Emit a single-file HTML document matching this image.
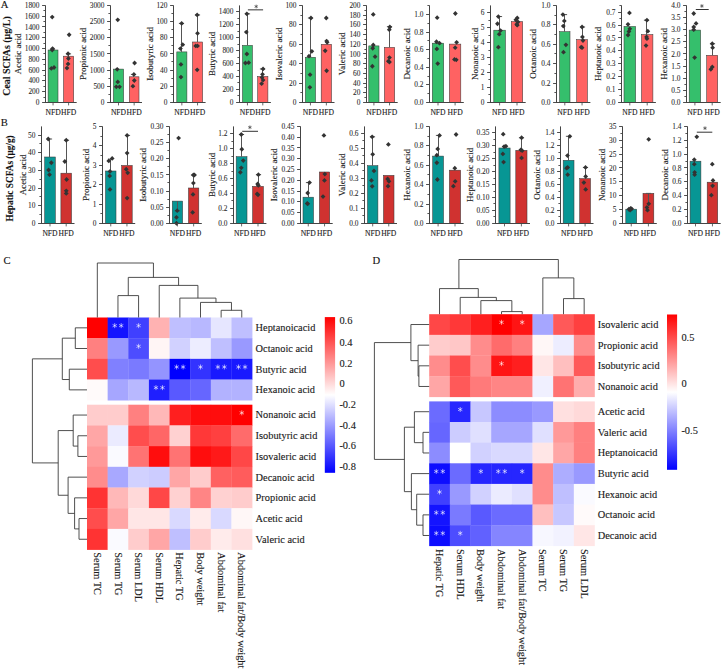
<!DOCTYPE html>
<html><head><meta charset="utf-8"><title>Figure</title>
<style>
html,body{margin:0;padding:0;background:#fff;}
body{width:722px;height:670px;overflow:hidden;}
svg{display:block;}
text{font-family:"Liberation Serif",serif;fill:#222;stroke:#222;stroke-width:0.12px;}
.tk{font-size:7.40px;text-anchor:end;fill:#2a2a2a;stroke:#333;stroke-width:0.08px;}
.xl{font-size:7.60px;fill:#222;}
.yl{font-size:9.00px;fill:#222;}
.st{font-size:9px;fill:#333;}
.hl{font-size:10.35px;fill:#1a1a1a;}
.hs{font-size:10.5px;fill:#e8e8ff;}
.cb{font-size:10.4px;fill:#1a1a1a;}
.pl{font-size:10.6px;fill:#111;}
.gt{font-size:9.9px;font-weight:bold;fill:#111;}
.gt2{font-size:9.3px;font-weight:bold;fill:#111;}
</style></head>
<body>
<svg width="722" height="670" viewBox="0 0 722 670">
<defs>
<linearGradient id="cbC" x1="0" y1="0" x2="0" y2="1">
<stop offset="0" stop-color="#ff0000"/><stop offset="0.5" stop-color="#ffffff"/><stop offset="1" stop-color="#0000ff"/>
</linearGradient>
<linearGradient id="cbD" x1="0" y1="0" x2="0" y2="1">
<stop offset="0" stop-color="#ff0000"/><stop offset="0.5" stop-color="#ffffff"/><stop offset="1" stop-color="#0000ff"/>
</linearGradient>
</defs>
<rect width="722" height="670" fill="#fff"/>
<rect x="87.00" y="317.50" width="20.94" height="20.97" fill="#ff0000"/>
<rect x="107.64" y="317.50" width="20.94" height="20.97" fill="#1414ff"/>
<rect x="128.28" y="317.50" width="20.94" height="20.97" fill="#4040ff"/>
<rect x="148.91" y="317.50" width="20.94" height="20.97" fill="#ffb2b2"/>
<rect x="169.55" y="317.50" width="20.94" height="20.97" fill="#bfbfff"/>
<rect x="190.19" y="317.50" width="20.94" height="20.97" fill="#b8b8ff"/>
<rect x="210.82" y="317.50" width="20.94" height="20.97" fill="#e6e6ff"/>
<rect x="231.46" y="317.50" width="20.94" height="20.97" fill="#bfbfff"/>
<rect x="87.00" y="338.18" width="20.94" height="20.97" fill="#ff8080"/>
<rect x="107.64" y="338.18" width="20.94" height="20.97" fill="#9999ff"/>
<rect x="128.28" y="338.18" width="20.94" height="20.97" fill="#4d4dff"/>
<rect x="148.91" y="338.18" width="20.94" height="20.97" fill="#fff5f5"/>
<rect x="169.55" y="338.18" width="20.94" height="20.97" fill="#d1d1ff"/>
<rect x="190.19" y="338.18" width="20.94" height="20.97" fill="#ededff"/>
<rect x="210.82" y="338.18" width="20.94" height="20.97" fill="#bfbfff"/>
<rect x="231.46" y="338.18" width="20.94" height="20.97" fill="#9999ff"/>
<rect x="87.00" y="358.85" width="20.94" height="20.97" fill="#ff4d4d"/>
<rect x="107.64" y="358.85" width="20.94" height="20.97" fill="#8080ff"/>
<rect x="128.28" y="358.85" width="20.94" height="20.97" fill="#7a7aff"/>
<rect x="148.91" y="358.85" width="20.94" height="20.97" fill="#9494ff"/>
<rect x="169.55" y="358.85" width="20.94" height="20.97" fill="#0000ff"/>
<rect x="190.19" y="358.85" width="20.94" height="20.97" fill="#3333ff"/>
<rect x="210.82" y="358.85" width="20.94" height="20.97" fill="#1919ff"/>
<rect x="231.46" y="358.85" width="20.94" height="20.97" fill="#1919ff"/>
<rect x="87.00" y="379.52" width="20.94" height="20.97" fill="#fffafa"/>
<rect x="107.64" y="379.52" width="20.94" height="20.97" fill="#a6a6ff"/>
<rect x="128.28" y="379.52" width="20.94" height="20.97" fill="#b8b8ff"/>
<rect x="148.91" y="379.52" width="20.94" height="20.97" fill="#1f1fff"/>
<rect x="169.55" y="379.52" width="20.94" height="20.97" fill="#5959ff"/>
<rect x="190.19" y="379.52" width="20.94" height="20.97" fill="#6666ff"/>
<rect x="210.82" y="379.52" width="20.94" height="20.97" fill="#b2b2ff"/>
<rect x="231.46" y="379.52" width="20.94" height="20.97" fill="#b2b2ff"/>
<rect x="87.00" y="404.70" width="20.94" height="21.00" fill="#ffcccc"/>
<rect x="107.64" y="404.70" width="20.94" height="21.00" fill="#ffcccc"/>
<rect x="128.28" y="404.70" width="20.94" height="21.00" fill="#ff8080"/>
<rect x="148.91" y="404.70" width="20.94" height="21.00" fill="#ffb8b8"/>
<rect x="169.55" y="404.70" width="20.94" height="21.00" fill="#ff1f1f"/>
<rect x="190.19" y="404.70" width="20.94" height="21.00" fill="#ff0d0d"/>
<rect x="210.82" y="404.70" width="20.94" height="21.00" fill="#ff0d0d"/>
<rect x="231.46" y="404.70" width="20.94" height="21.00" fill="#ff0000"/>
<rect x="87.00" y="425.40" width="20.94" height="21.00" fill="#ffa6a6"/>
<rect x="107.64" y="425.40" width="20.94" height="21.00" fill="#ebebff"/>
<rect x="128.28" y="425.40" width="20.94" height="21.00" fill="#ff4d4d"/>
<rect x="148.91" y="425.40" width="20.94" height="21.00" fill="#ff6666"/>
<rect x="169.55" y="425.40" width="20.94" height="21.00" fill="#ffd1d1"/>
<rect x="190.19" y="425.40" width="20.94" height="21.00" fill="#ff3838"/>
<rect x="210.82" y="425.40" width="20.94" height="21.00" fill="#ff4040"/>
<rect x="231.46" y="425.40" width="20.94" height="21.00" fill="#ff6b6b"/>
<rect x="87.00" y="446.10" width="20.94" height="21.00" fill="#ff9999"/>
<rect x="107.64" y="446.10" width="20.94" height="21.00" fill="#fafaff"/>
<rect x="128.28" y="446.10" width="20.94" height="21.00" fill="#ff7373"/>
<rect x="148.91" y="446.10" width="20.94" height="21.00" fill="#ff0d0d"/>
<rect x="169.55" y="446.10" width="20.94" height="21.00" fill="#ff7373"/>
<rect x="190.19" y="446.10" width="20.94" height="21.00" fill="#ff0d0d"/>
<rect x="210.82" y="446.10" width="20.94" height="21.00" fill="#ff1919"/>
<rect x="231.46" y="446.10" width="20.94" height="21.00" fill="#ff4747"/>
<rect x="87.00" y="466.80" width="20.94" height="21.00" fill="#ff8c8c"/>
<rect x="107.64" y="466.80" width="20.94" height="21.00" fill="#a8a8ff"/>
<rect x="128.28" y="466.80" width="20.94" height="21.00" fill="#d1d1ff"/>
<rect x="148.91" y="466.80" width="20.94" height="21.00" fill="#ccccff"/>
<rect x="169.55" y="466.80" width="20.94" height="21.00" fill="#ffa6a6"/>
<rect x="190.19" y="466.80" width="20.94" height="21.00" fill="#ffcccc"/>
<rect x="210.82" y="466.80" width="20.94" height="21.00" fill="#ff6161"/>
<rect x="231.46" y="466.80" width="20.94" height="21.00" fill="#ff5c5c"/>
<rect x="87.00" y="487.50" width="20.94" height="21.00" fill="#ff3333"/>
<rect x="107.64" y="487.50" width="20.94" height="21.00" fill="#ffb8b8"/>
<rect x="128.28" y="487.50" width="20.94" height="21.00" fill="#ffd9d9"/>
<rect x="148.91" y="487.50" width="20.94" height="21.00" fill="#ff4747"/>
<rect x="169.55" y="487.50" width="20.94" height="21.00" fill="#ffd1d1"/>
<rect x="190.19" y="487.50" width="20.94" height="21.00" fill="#ff8585"/>
<rect x="210.82" y="487.50" width="20.94" height="21.00" fill="#ffd1d1"/>
<rect x="231.46" y="487.50" width="20.94" height="21.00" fill="#ffcccc"/>
<rect x="87.00" y="508.20" width="20.94" height="21.00" fill="#ff4d4d"/>
<rect x="107.64" y="508.20" width="20.94" height="21.00" fill="#ffa6a6"/>
<rect x="128.28" y="508.20" width="20.94" height="21.00" fill="#ffe6e6"/>
<rect x="148.91" y="508.20" width="20.94" height="21.00" fill="#ffe6e6"/>
<rect x="169.55" y="508.20" width="20.94" height="21.00" fill="#d9d9ff"/>
<rect x="190.19" y="508.20" width="20.94" height="21.00" fill="#ffebeb"/>
<rect x="210.82" y="508.20" width="20.94" height="21.00" fill="#d9d9ff"/>
<rect x="231.46" y="508.20" width="20.94" height="21.00" fill="#fff7f7"/>
<rect x="87.00" y="528.90" width="20.94" height="21.00" fill="#ff3333"/>
<rect x="107.64" y="528.90" width="20.94" height="21.00" fill="#fafaff"/>
<rect x="128.28" y="528.90" width="20.94" height="21.00" fill="#ffcccc"/>
<rect x="148.91" y="528.90" width="20.94" height="21.00" fill="#ffa6a6"/>
<rect x="169.55" y="528.90" width="20.94" height="21.00" fill="#bfbfff"/>
<rect x="190.19" y="528.90" width="20.94" height="21.00" fill="#ffcccc"/>
<rect x="210.82" y="528.90" width="20.94" height="21.00" fill="#ffebeb"/>
<rect x="231.46" y="528.90" width="20.94" height="21.00" fill="#ffe0e0"/>
<path d="M114.71 323.54L114.71 327.74M112.89 324.59L116.52 326.69M116.52 324.59L112.89 326.69" stroke="rgba(255,255,255,0.72)" stroke-width="0.80" stroke-linecap="round" fill="none"/>
<path d="M121.21 323.54L121.21 327.74M119.39 324.59L123.02 326.69M123.02 324.59L119.39 326.69" stroke="rgba(255,255,255,0.72)" stroke-width="0.80" stroke-linecap="round" fill="none"/>
<path d="M138.59 323.54L138.59 327.74M136.78 324.59L140.41 326.69M140.41 324.59L136.78 326.69" stroke="rgba(255,255,255,0.72)" stroke-width="0.80" stroke-linecap="round" fill="none"/>
<path d="M138.59 344.21L138.59 348.41M136.78 345.26L140.41 347.36M140.41 345.26L136.78 347.36" stroke="rgba(255,255,255,0.72)" stroke-width="0.80" stroke-linecap="round" fill="none"/>
<path d="M176.62 364.89L176.62 369.09M174.80 365.94L178.44 368.04M178.44 365.94L174.80 368.04" stroke="rgba(255,255,255,0.72)" stroke-width="0.80" stroke-linecap="round" fill="none"/>
<path d="M183.12 364.89L183.12 369.09M181.30 365.94L184.94 368.04M184.94 365.94L181.30 368.04" stroke="rgba(255,255,255,0.72)" stroke-width="0.80" stroke-linecap="round" fill="none"/>
<path d="M200.51 364.89L200.51 369.09M198.69 365.94L202.32 368.04M202.32 365.94L198.69 368.04" stroke="rgba(255,255,255,0.72)" stroke-width="0.80" stroke-linecap="round" fill="none"/>
<path d="M217.89 364.89L217.89 369.09M216.08 365.94L219.71 368.04M219.71 365.94L216.08 368.04" stroke="rgba(255,255,255,0.72)" stroke-width="0.80" stroke-linecap="round" fill="none"/>
<path d="M224.39 364.89L224.39 369.09M222.58 365.94L226.21 368.04M226.21 365.94L222.58 368.04" stroke="rgba(255,255,255,0.72)" stroke-width="0.80" stroke-linecap="round" fill="none"/>
<path d="M238.53 364.89L238.53 369.09M236.71 365.94L240.35 368.04M240.35 365.94L236.71 368.04" stroke="rgba(255,255,255,0.72)" stroke-width="0.80" stroke-linecap="round" fill="none"/>
<path d="M245.03 364.89L245.03 369.09M243.21 365.94L246.85 368.04M246.85 365.94L243.21 368.04" stroke="rgba(255,255,255,0.72)" stroke-width="0.80" stroke-linecap="round" fill="none"/>
<path d="M155.98 385.56L155.98 389.76M154.16 386.61L157.80 388.71M157.80 386.61L154.16 388.71" stroke="rgba(255,255,255,0.72)" stroke-width="0.80" stroke-linecap="round" fill="none"/>
<path d="M162.48 385.56L162.48 389.76M160.66 386.61L164.30 388.71M164.30 386.61L160.66 388.71" stroke="rgba(255,255,255,0.72)" stroke-width="0.80" stroke-linecap="round" fill="none"/>
<path d="M241.78 410.75L241.78 414.95M239.96 411.80L243.60 413.90M243.60 411.80L239.96 413.90" stroke="rgba(255,255,255,0.72)" stroke-width="0.80" stroke-linecap="round" fill="none"/>
<text x="255.60" y="331.24" class="hl">Heptanoicacid</text>
<text x="255.60" y="351.91" class="hl">Octanoic acid</text>
<text x="255.60" y="372.59" class="hl">Butyric acid</text>
<text x="255.60" y="393.26" class="hl">Hexanoic acid</text>
<text x="255.60" y="418.45" class="hl">Nonanoic acid</text>
<text x="255.60" y="439.15" class="hl">Isobutyric acid</text>
<text x="255.60" y="459.85" class="hl">Isovaleric acid</text>
<text x="255.60" y="480.55" class="hl">Decanoic acid</text>
<text x="255.60" y="501.25" class="hl">Propionic acid</text>
<text x="255.60" y="521.95" class="hl">Acetic acid</text>
<text x="255.60" y="542.65" class="hl">Valeric acid</text>
<text transform="translate(93.92 552.30) rotate(90)" class="hl">Serum TC</text>
<text transform="translate(114.56 552.30) rotate(90)" class="hl">Serum TG</text>
<text transform="translate(135.19 552.30) rotate(90)" class="hl">Serum LDL</text>
<text transform="translate(155.83 552.30) rotate(90)" class="hl">Serum HDL</text>
<text transform="translate(176.47 552.30) rotate(90)" class="hl">Hepatic TG</text>
<text transform="translate(197.11 552.30) rotate(90)" class="hl">Body weight</text>
<text transform="translate(217.74 552.30) rotate(90)" class="hl">Abdominal fat</text>
<text transform="translate(238.38 552.30) rotate(90)" class="hl">Abdominal fat/Body weight</text>
<path d="M221.14 317.50 L221.14 310.30 L241.78 310.30 L241.78 317.50" fill="none" stroke="#3c3c3c" stroke-width="0.9"/>
<path d="M200.51 317.50 L200.51 302.40 L231.46 302.40 L231.46 310.30" fill="none" stroke="#3c3c3c" stroke-width="0.9"/>
<path d="M179.87 317.50 L179.87 298.10 L215.98 298.10 L215.98 302.40" fill="none" stroke="#3c3c3c" stroke-width="0.9"/>
<path d="M159.23 317.50 L159.23 285.40 L197.93 285.40 L197.93 298.10" fill="none" stroke="#3c3c3c" stroke-width="0.9"/>
<path d="M117.96 317.50 L117.96 295.60 L138.59 295.60 L138.59 317.50" fill="none" stroke="#3c3c3c" stroke-width="0.9"/>
<path d="M128.28 295.60 L128.28 277.40 L178.58 277.40 L178.58 285.40" fill="none" stroke="#3c3c3c" stroke-width="0.9"/>
<path d="M97.32 317.50 L97.32 263.00 L153.43 263.00 L153.43 277.40" fill="none" stroke="#3c3c3c" stroke-width="0.9"/>
<path d="M87.00 327.84 L75.30 327.84 L75.30 348.51 L87.00 348.51" fill="none" stroke="#3c3c3c" stroke-width="0.9"/>
<path d="M87.00 369.19 L69.30 369.19 L69.30 389.86 L87.00 389.86" fill="none" stroke="#3c3c3c" stroke-width="0.9"/>
<path d="M75.30 338.17 L62.30 338.17 L62.30 379.52 L69.30 379.52" fill="none" stroke="#3c3c3c" stroke-width="0.9"/>
<path d="M87.00 435.75 L77.90 435.75 L77.90 456.45 L87.00 456.45" fill="none" stroke="#3c3c3c" stroke-width="0.9"/>
<path d="M87.00 415.05 L73.20 415.05 L73.20 446.10 L77.90 446.10" fill="none" stroke="#3c3c3c" stroke-width="0.9"/>
<path d="M87.00 518.55 L79.00 518.55 L79.00 539.25 L87.00 539.25" fill="none" stroke="#3c3c3c" stroke-width="0.9"/>
<path d="M87.00 497.85 L74.60 497.85 L74.60 528.90 L79.00 528.90" fill="none" stroke="#3c3c3c" stroke-width="0.9"/>
<path d="M87.00 477.15 L68.10 477.15 L68.10 513.38 L74.60 513.38" fill="none" stroke="#3c3c3c" stroke-width="0.9"/>
<path d="M73.20 430.58 L58.20 430.58 L58.20 495.26 L68.10 495.26" fill="none" stroke="#3c3c3c" stroke-width="0.9"/>
<path d="M62.30 358.85 L32.40 358.85 L32.40 462.92 L58.20 462.92" fill="none" stroke="#3c3c3c" stroke-width="0.9"/>
<rect x="324.8" y="317.1" width="10.3" height="155.7" fill="url(#cbC)"/>
<text x="339.4" y="324.30" class="cb">0.6</text>
<text x="339.4" y="346.20" class="cb">0.4</text>
<text x="339.4" y="367.10" class="cb">0.2</text>
<text x="339.4" y="387.00" class="cb">0</text>
<text x="339.4" y="408.00" class="cb">-0.2</text>
<text x="339.4" y="428.80" class="cb">-0.4</text>
<text x="339.4" y="449.10" class="cb">-0.6</text>
<text x="339.4" y="469.80" class="cb">-0.8</text>
<rect x="429.20" y="314.20" width="20.96" height="20.95" fill="#ff4747"/>
<rect x="449.86" y="314.20" width="20.96" height="20.95" fill="#ff3838"/>
<rect x="470.52" y="314.20" width="20.96" height="20.95" fill="#ff1f1f"/>
<rect x="491.19" y="314.20" width="20.96" height="20.95" fill="#ff0000"/>
<rect x="511.85" y="314.20" width="20.96" height="20.95" fill="#ff1414"/>
<rect x="532.51" y="314.20" width="20.96" height="20.95" fill="#a6a6ff"/>
<rect x="553.17" y="314.20" width="20.96" height="20.95" fill="#ff5959"/>
<rect x="573.84" y="314.20" width="20.96" height="20.95" fill="#ff4040"/>
<rect x="429.20" y="334.85" width="20.96" height="20.95" fill="#ffcccc"/>
<rect x="449.86" y="334.85" width="20.96" height="20.95" fill="#ffc7c7"/>
<rect x="470.52" y="334.85" width="20.96" height="20.95" fill="#ff8c8c"/>
<rect x="491.19" y="334.85" width="20.96" height="20.95" fill="#ff6b6b"/>
<rect x="511.85" y="334.85" width="20.96" height="20.95" fill="#ff8080"/>
<rect x="532.51" y="334.85" width="20.96" height="20.95" fill="#fff7f7"/>
<rect x="553.17" y="334.85" width="20.96" height="20.95" fill="#ededff"/>
<rect x="573.84" y="334.85" width="20.96" height="20.95" fill="#ff8c8c"/>
<rect x="429.20" y="355.50" width="20.96" height="20.95" fill="#ff8c8c"/>
<rect x="449.86" y="355.50" width="20.96" height="20.95" fill="#ff4d4d"/>
<rect x="470.52" y="355.50" width="20.96" height="20.95" fill="#ff8c8c"/>
<rect x="491.19" y="355.50" width="20.96" height="20.95" fill="#ff1414"/>
<rect x="511.85" y="355.50" width="20.96" height="20.95" fill="#ff1f1f"/>
<rect x="532.51" y="355.50" width="20.96" height="20.95" fill="#ffe6e6"/>
<rect x="553.17" y="355.50" width="20.96" height="20.95" fill="#ffbfbf"/>
<rect x="573.84" y="355.50" width="20.96" height="20.95" fill="#ff5959"/>
<rect x="429.20" y="376.15" width="20.96" height="20.95" fill="#ffa6a6"/>
<rect x="449.86" y="376.15" width="20.96" height="20.95" fill="#ff5959"/>
<rect x="470.52" y="376.15" width="20.96" height="20.95" fill="#ff7a7a"/>
<rect x="491.19" y="376.15" width="20.96" height="20.95" fill="#ff8585"/>
<rect x="511.85" y="376.15" width="20.96" height="20.95" fill="#ff8585"/>
<rect x="532.51" y="376.15" width="20.96" height="20.95" fill="#f0f0ff"/>
<rect x="553.17" y="376.15" width="20.96" height="20.95" fill="#ff7373"/>
<rect x="573.84" y="376.15" width="20.96" height="20.95" fill="#ffadad"/>
<rect x="429.20" y="401.40" width="20.96" height="20.93" fill="#6b6bff"/>
<rect x="449.86" y="401.40" width="20.96" height="20.93" fill="#2626ff"/>
<rect x="470.52" y="401.40" width="20.96" height="20.93" fill="#c7c7ff"/>
<rect x="491.19" y="401.40" width="20.96" height="20.93" fill="#8c8cff"/>
<rect x="511.85" y="401.40" width="20.96" height="20.93" fill="#8c8cff"/>
<rect x="532.51" y="401.40" width="20.96" height="20.93" fill="#9999ff"/>
<rect x="553.17" y="401.40" width="20.96" height="20.93" fill="#ffe0e0"/>
<rect x="573.84" y="401.40" width="20.96" height="20.93" fill="#ffd9d9"/>
<rect x="429.20" y="422.03" width="20.96" height="20.93" fill="#6666ff"/>
<rect x="449.86" y="422.03" width="20.96" height="20.93" fill="#ccccff"/>
<rect x="470.52" y="422.03" width="20.96" height="20.93" fill="#e0e0ff"/>
<rect x="491.19" y="422.03" width="20.96" height="20.93" fill="#a6a6ff"/>
<rect x="511.85" y="422.03" width="20.96" height="20.93" fill="#a6a6ff"/>
<rect x="532.51" y="422.03" width="20.96" height="20.93" fill="#e0e0ff"/>
<rect x="553.17" y="422.03" width="20.96" height="20.93" fill="#ff9999"/>
<rect x="573.84" y="422.03" width="20.96" height="20.93" fill="#ff8080"/>
<rect x="429.20" y="442.66" width="20.96" height="20.93" fill="#8c8cff"/>
<rect x="449.86" y="442.66" width="20.96" height="20.93" fill="#ffffff"/>
<rect x="470.52" y="442.66" width="20.96" height="20.93" fill="#d1d1ff"/>
<rect x="491.19" y="442.66" width="20.96" height="20.93" fill="#d9d9ff"/>
<rect x="511.85" y="442.66" width="20.96" height="20.93" fill="#d9d9ff"/>
<rect x="532.51" y="442.66" width="20.96" height="20.93" fill="#ffe6e6"/>
<rect x="553.17" y="442.66" width="20.96" height="20.93" fill="#ffa6a6"/>
<rect x="573.84" y="442.66" width="20.96" height="20.93" fill="#ff8080"/>
<rect x="429.20" y="463.29" width="20.96" height="20.93" fill="#0d0dff"/>
<rect x="449.86" y="463.29" width="20.96" height="20.93" fill="#6b6bff"/>
<rect x="470.52" y="463.29" width="20.96" height="20.93" fill="#2626ff"/>
<rect x="491.19" y="463.29" width="20.96" height="20.93" fill="#2626ff"/>
<rect x="511.85" y="463.29" width="20.96" height="20.93" fill="#2626ff"/>
<rect x="532.51" y="463.29" width="20.96" height="20.93" fill="#ff8c8c"/>
<rect x="553.17" y="463.29" width="20.96" height="20.93" fill="#adadff"/>
<rect x="573.84" y="463.29" width="20.96" height="20.93" fill="#9999ff"/>
<rect x="429.20" y="483.91" width="20.96" height="20.93" fill="#4040ff"/>
<rect x="449.86" y="483.91" width="20.96" height="20.93" fill="#9999ff"/>
<rect x="470.52" y="483.91" width="20.96" height="20.93" fill="#d1d1ff"/>
<rect x="491.19" y="483.91" width="20.96" height="20.93" fill="#ebebff"/>
<rect x="511.85" y="483.91" width="20.96" height="20.93" fill="#e0e0ff"/>
<rect x="532.51" y="483.91" width="20.96" height="20.93" fill="#ff8c8c"/>
<rect x="553.17" y="483.91" width="20.96" height="20.93" fill="#bfbfff"/>
<rect x="573.84" y="483.91" width="20.96" height="20.93" fill="#fafaff"/>
<rect x="429.20" y="504.54" width="20.96" height="20.93" fill="#1414ff"/>
<rect x="449.86" y="504.54" width="20.96" height="20.93" fill="#7a7aff"/>
<rect x="470.52" y="504.54" width="20.96" height="20.93" fill="#5959ff"/>
<rect x="491.19" y="504.54" width="20.96" height="20.93" fill="#6b6bff"/>
<rect x="511.85" y="504.54" width="20.96" height="20.93" fill="#6b6bff"/>
<rect x="532.51" y="504.54" width="20.96" height="20.93" fill="#ffbfbf"/>
<rect x="553.17" y="504.54" width="20.96" height="20.93" fill="#c7c7ff"/>
<rect x="573.84" y="504.54" width="20.96" height="20.93" fill="#fffafa"/>
<rect x="429.20" y="525.17" width="20.96" height="20.93" fill="#0d0dff"/>
<rect x="449.86" y="525.17" width="20.96" height="20.93" fill="#4d4dff"/>
<rect x="470.52" y="525.17" width="20.96" height="20.93" fill="#6161ff"/>
<rect x="491.19" y="525.17" width="20.96" height="20.93" fill="#8585ff"/>
<rect x="511.85" y="525.17" width="20.96" height="20.93" fill="#8585ff"/>
<rect x="532.51" y="525.17" width="20.96" height="20.93" fill="#f7f7ff"/>
<rect x="553.17" y="525.17" width="20.96" height="20.93" fill="#f2f2ff"/>
<rect x="573.84" y="525.17" width="20.96" height="20.93" fill="#ffe6e6"/>
<path d="M501.52 320.22L501.52 324.43M499.70 321.27L503.34 323.38M503.34 321.27L499.70 323.38" stroke="rgba(255,255,255,0.72)" stroke-width="0.80" stroke-linecap="round" fill="none"/>
<path d="M522.18 320.22L522.18 324.43M520.36 321.27L524.00 323.38M524.00 321.27L520.36 323.38" stroke="rgba(255,255,255,0.72)" stroke-width="0.80" stroke-linecap="round" fill="none"/>
<path d="M501.52 361.52L501.52 365.73M499.70 362.57L503.34 364.68M503.34 362.57L499.70 364.68" stroke="rgba(255,255,255,0.72)" stroke-width="0.80" stroke-linecap="round" fill="none"/>
<path d="M460.19 407.41L460.19 411.61M458.38 408.46L462.01 410.56M462.01 408.46L458.38 410.56" stroke="rgba(255,255,255,0.72)" stroke-width="0.80" stroke-linecap="round" fill="none"/>
<path d="M436.28 469.30L436.28 473.50M434.46 470.35L438.10 472.45M438.10 470.35L434.46 472.45" stroke="rgba(255,255,255,0.72)" stroke-width="0.80" stroke-linecap="round" fill="none"/>
<path d="M442.78 469.30L442.78 473.50M440.96 470.35L444.60 472.45M444.60 470.35L440.96 472.45" stroke="rgba(255,255,255,0.72)" stroke-width="0.80" stroke-linecap="round" fill="none"/>
<path d="M480.86 469.30L480.86 473.50M479.04 470.35L482.67 472.45M482.67 470.35L479.04 472.45" stroke="rgba(255,255,255,0.72)" stroke-width="0.80" stroke-linecap="round" fill="none"/>
<path d="M498.27 469.30L498.27 473.50M496.45 470.35L500.09 472.45M500.09 470.35L496.45 472.45" stroke="rgba(255,255,255,0.72)" stroke-width="0.80" stroke-linecap="round" fill="none"/>
<path d="M504.77 469.30L504.77 473.50M502.95 470.35L506.59 472.45M506.59 470.35L502.95 472.45" stroke="rgba(255,255,255,0.72)" stroke-width="0.80" stroke-linecap="round" fill="none"/>
<path d="M522.18 469.30L522.18 473.50M520.36 470.35L524.00 472.45M524.00 470.35L520.36 472.45" stroke="rgba(255,255,255,0.72)" stroke-width="0.80" stroke-linecap="round" fill="none"/>
<path d="M439.53 489.93L439.53 494.13M437.71 490.98L441.35 493.08M441.35 490.98L437.71 493.08" stroke="rgba(255,255,255,0.72)" stroke-width="0.80" stroke-linecap="round" fill="none"/>
<path d="M436.28 510.56L436.28 514.76M434.46 511.61L438.10 513.71M438.10 511.61L434.46 513.71" stroke="rgba(255,255,255,0.72)" stroke-width="0.80" stroke-linecap="round" fill="none"/>
<path d="M442.78 510.56L442.78 514.76M440.96 511.61L444.60 513.71M444.60 511.61L440.96 513.71" stroke="rgba(255,255,255,0.72)" stroke-width="0.80" stroke-linecap="round" fill="none"/>
<path d="M436.28 531.19L436.28 535.39M434.46 532.24L438.10 534.34M438.10 532.24L434.46 534.34" stroke="rgba(255,255,255,0.72)" stroke-width="0.80" stroke-linecap="round" fill="none"/>
<path d="M442.78 531.19L442.78 535.39M440.96 532.24L444.60 534.34M444.60 532.24L440.96 534.34" stroke="rgba(255,255,255,0.72)" stroke-width="0.80" stroke-linecap="round" fill="none"/>
<path d="M460.19 531.19L460.19 535.39M458.38 532.24L462.01 534.34M462.01 532.24L458.38 534.34" stroke="rgba(255,255,255,0.72)" stroke-width="0.80" stroke-linecap="round" fill="none"/>
<text x="597.80" y="327.92" class="hl">Isovaleric acid</text>
<text x="597.80" y="348.57" class="hl">Propionic acid</text>
<text x="597.80" y="369.22" class="hl">Isobutyric acid</text>
<text x="597.80" y="389.87" class="hl">Nonanoic acid</text>
<text x="597.80" y="415.11" class="hl">Acetic acid</text>
<text x="597.80" y="435.74" class="hl">Valeric acid</text>
<text x="597.80" y="456.37" class="hl">Heptanoicacid</text>
<text x="597.80" y="477.00" class="hl">Butyric acid</text>
<text x="597.80" y="497.63" class="hl">Hexanoic acid</text>
<text x="597.80" y="518.26" class="hl">Octanoic acid</text>
<text x="597.80" y="538.89" class="hl">Decanoic acid</text>
<text transform="translate(436.13 549.00) rotate(90)" class="hl">Hepatic TG</text>
<text transform="translate(456.79 549.00) rotate(90)" class="hl">Serum HDL</text>
<text transform="translate(477.46 549.00) rotate(90)" class="hl">Body weight</text>
<text transform="translate(498.12 549.00) rotate(90)" class="hl">Abdominal fat</text>
<text transform="translate(518.78 549.00) rotate(90)" class="hl">Abdominal fat/Body weight</text>
<text transform="translate(539.44 549.00) rotate(90)" class="hl">Serum TC</text>
<text transform="translate(560.11 549.00) rotate(90)" class="hl">Serum TG</text>
<text transform="translate(580.77 549.00) rotate(90)" class="hl">Serum LDL</text>
<path d="M501.52 314.20 L501.52 311.60 L522.18 311.60 L522.18 314.20" fill="none" stroke="#3c3c3c" stroke-width="0.9"/>
<path d="M480.86 314.20 L480.86 300.60 L511.85 300.60 L511.85 311.60" fill="none" stroke="#3c3c3c" stroke-width="0.9"/>
<path d="M460.19 314.20 L460.19 297.40 L496.35 297.40 L496.35 300.60" fill="none" stroke="#3c3c3c" stroke-width="0.9"/>
<path d="M439.53 314.20 L439.53 288.60 L478.27 288.60 L478.27 297.40" fill="none" stroke="#3c3c3c" stroke-width="0.9"/>
<path d="M563.51 314.20 L563.51 298.60 L584.17 298.60 L584.17 314.20" fill="none" stroke="#3c3c3c" stroke-width="0.9"/>
<path d="M542.84 314.20 L542.84 277.90 L573.84 277.90 L573.84 298.60" fill="none" stroke="#3c3c3c" stroke-width="0.9"/>
<path d="M458.90 288.60 L458.90 259.50 L558.34 259.50 L558.34 277.90" fill="none" stroke="#3c3c3c" stroke-width="0.9"/>
<path d="M429.20 365.82 L418.90 365.82 L418.90 386.47 L429.20 386.47" fill="none" stroke="#3c3c3c" stroke-width="0.9"/>
<path d="M429.20 345.18 L418.10 345.18 L418.10 376.15 L418.90 376.15" fill="none" stroke="#3c3c3c" stroke-width="0.9"/>
<path d="M429.20 324.52 L410.90 324.52 L410.90 360.66 L418.10 360.66" fill="none" stroke="#3c3c3c" stroke-width="0.9"/>
<path d="M429.20 432.34 L423.00 432.34 L423.00 452.97 L429.20 452.97" fill="none" stroke="#3c3c3c" stroke-width="0.9"/>
<path d="M429.20 411.71 L414.40 411.71 L414.40 442.66 L423.00 442.66" fill="none" stroke="#3c3c3c" stroke-width="0.9"/>
<path d="M429.20 514.86 L423.00 514.86 L423.00 535.49 L429.20 535.49" fill="none" stroke="#3c3c3c" stroke-width="0.9"/>
<path d="M429.20 494.23 L416.70 494.23 L416.70 525.17 L423.00 525.17" fill="none" stroke="#3c3c3c" stroke-width="0.9"/>
<path d="M429.20 473.60 L411.40 473.60 L411.40 509.70 L416.70 509.70" fill="none" stroke="#3c3c3c" stroke-width="0.9"/>
<path d="M414.40 427.19 L404.40 427.19 L404.40 491.65 L411.40 491.65" fill="none" stroke="#3c3c3c" stroke-width="0.9"/>
<path d="M410.90 342.59 L374.40 342.59 L374.40 459.42 L404.40 459.42" fill="none" stroke="#3c3c3c" stroke-width="0.9"/>
<rect x="667.0" y="314.5" width="10.1" height="155.3" fill="url(#cbD)"/>
<text x="681.4" y="341.00" class="cb">0.5</text>
<text x="681.4" y="387.20" class="cb">0</text>
<text x="681.4" y="434.10" class="cb">-0.5</text>
<rect x="48.10" y="50.00" width="9.90" height="52.40" fill="#35bf6c" stroke="#3a3a3a" stroke-width="0.55"/>
<rect x="63.50" y="56.20" width="10.20" height="46.20" fill="#ff6262" stroke="#3a3a3a" stroke-width="0.55"/>
<line x1="52.50" y1="49.20" x2="52.50" y2="50.00" stroke="#555555" stroke-width="1.0"/>
<line x1="49.90" y1="49.20" x2="55.10" y2="49.20" stroke="#555555" stroke-width="1.0"/>
<line x1="68.50" y1="53.90" x2="68.50" y2="56.20" stroke="#555555" stroke-width="1.0"/>
<line x1="65.90" y1="53.90" x2="71.10" y2="53.90" stroke="#555555" stroke-width="1.0"/>
<path d="M52.21 14.70L54.61 17.10L52.21 19.50L49.81 17.10Z" fill="#333333"/>
<path d="M52.57 46.21L54.97 48.61L52.57 51.01L50.17 48.61Z" fill="#333333"/>
<path d="M51.31 66.02L53.71 68.42L51.31 70.82L48.91 68.42Z" fill="#333333"/>
<path d="M54.02 65.12L56.42 67.52L54.02 69.92L51.62 67.52Z" fill="#333333"/>
<path d="M52.21 47.65L54.61 50.05L52.21 52.45L49.81 50.05Z" fill="#333333"/>
<path d="M69.14 32.35L71.54 34.75L69.14 37.15L66.74 34.75Z" fill="#333333"/>
<path d="M68.06 51.26L70.46 53.66L68.06 56.06L65.66 53.66Z" fill="#333333"/>
<path d="M68.42 56.12L70.82 58.52L68.42 60.92L66.02 58.52Z" fill="#333333"/>
<path d="M68.06 61.52L70.46 63.92L68.06 66.32L65.66 63.92Z" fill="#333333"/>
<path d="M66.98 65.66L69.38 68.06L66.98 70.46L64.58 68.06Z" fill="#333333"/>
<line x1="45.50" y1="5.40" x2="45.50" y2="102.90" stroke="#444444" stroke-width="1"/>
<line x1="45.00" y1="102.50" x2="76.70" y2="102.50" stroke="#444444" stroke-width="1"/>
<line x1="42.10" y1="102.50" x2="45.50" y2="102.50" stroke="#444444" stroke-width="0.95"/>
<text x="39.50" y="105.00" class="tk">0</text>
<line x1="42.10" y1="91.50" x2="45.50" y2="91.50" stroke="#444444" stroke-width="0.95"/>
<text x="39.50" y="94.22" class="tk">200</text>
<line x1="42.10" y1="80.50" x2="45.50" y2="80.50" stroke="#444444" stroke-width="0.95"/>
<text x="39.50" y="83.44" class="tk">400</text>
<line x1="42.10" y1="70.50" x2="45.50" y2="70.50" stroke="#444444" stroke-width="0.95"/>
<text x="39.50" y="72.67" class="tk">600</text>
<line x1="42.10" y1="59.50" x2="45.50" y2="59.50" stroke="#444444" stroke-width="0.95"/>
<text x="39.50" y="61.89" class="tk">800</text>
<line x1="42.10" y1="48.50" x2="45.50" y2="48.50" stroke="#444444" stroke-width="0.95"/>
<text x="39.50" y="51.11" class="tk">1000</text>
<line x1="42.10" y1="37.50" x2="45.50" y2="37.50" stroke="#444444" stroke-width="0.95"/>
<text x="39.50" y="40.33" class="tk">1200</text>
<line x1="42.10" y1="26.50" x2="45.50" y2="26.50" stroke="#444444" stroke-width="0.95"/>
<text x="39.50" y="29.56" class="tk">1400</text>
<line x1="42.10" y1="16.50" x2="45.50" y2="16.50" stroke="#444444" stroke-width="0.95"/>
<text x="39.50" y="18.78" class="tk">1600</text>
<line x1="42.10" y1="5.50" x2="45.50" y2="5.50" stroke="#444444" stroke-width="0.95"/>
<text x="39.50" y="8.00" class="tk">1800</text>
<line x1="43.40" y1="97.50" x2="45.50" y2="97.50" stroke="#444444" stroke-width="0.9"/>
<line x1="43.40" y1="86.50" x2="45.50" y2="86.50" stroke="#444444" stroke-width="0.9"/>
<line x1="43.40" y1="75.50" x2="45.50" y2="75.50" stroke="#444444" stroke-width="0.9"/>
<line x1="43.40" y1="64.50" x2="45.50" y2="64.50" stroke="#444444" stroke-width="0.9"/>
<line x1="43.40" y1="53.50" x2="45.50" y2="53.50" stroke="#444444" stroke-width="0.9"/>
<line x1="43.40" y1="43.50" x2="45.50" y2="43.50" stroke="#444444" stroke-width="0.9"/>
<line x1="43.40" y1="32.50" x2="45.50" y2="32.50" stroke="#444444" stroke-width="0.9"/>
<line x1="43.40" y1="21.50" x2="45.50" y2="21.50" stroke="#444444" stroke-width="0.9"/>
<line x1="43.40" y1="10.50" x2="45.50" y2="10.50" stroke="#444444" stroke-width="0.9"/>
<line x1="53.05" y1="102.40" x2="53.05" y2="105.40" stroke="#444444" stroke-width="0.8"/>
<line x1="68.60" y1="102.40" x2="68.60" y2="105.40" stroke="#444444" stroke-width="0.8"/>
<text x="53.05" y="114.60" class="xl" text-anchor="middle">NFD</text>
<text x="68.60" y="114.60" class="xl" text-anchor="middle">HFD</text>
<text transform="translate(20.60 53.80) rotate(-90)" class="yl" text-anchor="middle">Acetic acid</text>
<rect x="113.40" y="69.10" width="10.20" height="33.30" fill="#35bf6c" stroke="#3a3a3a" stroke-width="0.55"/>
<rect x="129.30" y="76.80" width="9.70" height="25.60" fill="#ff6262" stroke="#3a3a3a" stroke-width="0.55"/>
<line x1="133.50" y1="74.40" x2="133.50" y2="76.80" stroke="#555555" stroke-width="1.0"/>
<line x1="130.90" y1="74.40" x2="136.10" y2="74.40" stroke="#555555" stroke-width="1.0"/>
<path d="M117.75 17.41L120.15 19.81L117.75 22.21L115.35 19.81Z" fill="#333333"/>
<path d="M117.21 66.92L119.61 69.32L117.21 71.72L114.81 69.32Z" fill="#333333"/>
<path d="M117.75 79.52L120.15 81.92L117.75 84.32L115.35 81.92Z" fill="#333333"/>
<path d="M116.31 84.38L118.71 86.78L116.31 89.18L113.91 86.78Z" fill="#333333"/>
<path d="M119.56 84.38L121.96 86.78L119.56 89.18L117.16 86.78Z" fill="#333333"/>
<path d="M134.60 60.60L137.00 63.00L134.60 65.40L132.20 63.00Z" fill="#333333"/>
<path d="M133.90 72.00L136.30 74.40L133.90 76.80L131.50 74.40Z" fill="#333333"/>
<path d="M134.30 78.10L136.70 80.50L134.30 82.90L131.90 80.50Z" fill="#333333"/>
<path d="M132.90 83.80L135.30 86.20L132.90 88.60L130.50 86.20Z" fill="#333333"/>
<line x1="110.50" y1="5.40" x2="110.50" y2="102.90" stroke="#444444" stroke-width="1"/>
<line x1="110.00" y1="102.50" x2="142.00" y2="102.50" stroke="#444444" stroke-width="1"/>
<line x1="107.10" y1="102.50" x2="110.50" y2="102.50" stroke="#444444" stroke-width="0.95"/>
<text x="104.50" y="105.00" class="tk">0</text>
<line x1="107.10" y1="86.50" x2="110.50" y2="86.50" stroke="#444444" stroke-width="0.95"/>
<text x="104.50" y="88.83" class="tk">500</text>
<line x1="107.10" y1="70.50" x2="110.50" y2="70.50" stroke="#444444" stroke-width="0.95"/>
<text x="104.50" y="72.67" class="tk">1000</text>
<line x1="107.10" y1="53.50" x2="110.50" y2="53.50" stroke="#444444" stroke-width="0.95"/>
<text x="104.50" y="56.50" class="tk">1500</text>
<line x1="107.10" y1="37.50" x2="110.50" y2="37.50" stroke="#444444" stroke-width="0.95"/>
<text x="104.50" y="40.33" class="tk">2000</text>
<line x1="107.10" y1="21.50" x2="110.50" y2="21.50" stroke="#444444" stroke-width="0.95"/>
<text x="104.50" y="24.17" class="tk">2500</text>
<line x1="107.10" y1="5.50" x2="110.50" y2="5.50" stroke="#444444" stroke-width="0.95"/>
<text x="104.50" y="8.00" class="tk">3000</text>
<line x1="108.40" y1="94.50" x2="110.50" y2="94.50" stroke="#444444" stroke-width="0.9"/>
<line x1="108.40" y1="78.50" x2="110.50" y2="78.50" stroke="#444444" stroke-width="0.9"/>
<line x1="108.40" y1="61.50" x2="110.50" y2="61.50" stroke="#444444" stroke-width="0.9"/>
<line x1="108.40" y1="45.50" x2="110.50" y2="45.50" stroke="#444444" stroke-width="0.9"/>
<line x1="108.40" y1="29.50" x2="110.50" y2="29.50" stroke="#444444" stroke-width="0.9"/>
<line x1="108.40" y1="13.50" x2="110.50" y2="13.50" stroke="#444444" stroke-width="0.9"/>
<line x1="118.50" y1="102.40" x2="118.50" y2="105.40" stroke="#444444" stroke-width="0.8"/>
<line x1="134.15" y1="102.40" x2="134.15" y2="105.40" stroke="#444444" stroke-width="0.8"/>
<text x="118.50" y="114.60" class="xl" text-anchor="middle">NFD</text>
<text x="134.15" y="114.60" class="xl" text-anchor="middle">HFD</text>
<text transform="translate(85.60 53.80) rotate(-90)" class="yl" text-anchor="middle">Propionic acid</text>
<rect x="176.80" y="51.90" width="10.10" height="50.50" fill="#35bf6c" stroke="#3a3a3a" stroke-width="0.55"/>
<rect x="192.50" y="42.00" width="10.10" height="60.40" fill="#ff6262" stroke="#3a3a3a" stroke-width="0.55"/>
<line x1="181.50" y1="23.41" x2="181.50" y2="51.90" stroke="#555555" stroke-width="1.0"/>
<line x1="178.90" y1="23.41" x2="184.10" y2="23.41" stroke="#555555" stroke-width="1.0"/>
<line x1="197.50" y1="14.94" x2="197.50" y2="42.00" stroke="#555555" stroke-width="1.0"/>
<line x1="194.90" y1="14.94" x2="200.10" y2="14.94" stroke="#555555" stroke-width="1.0"/>
<path d="M181.67 21.01L184.07 23.41L181.67 25.81L179.27 23.41Z" fill="#333333"/>
<path d="M182.75 42.25L185.15 44.65L182.75 47.05L180.35 44.65Z" fill="#333333"/>
<path d="M180.41 46.21L182.81 48.61L180.41 51.01L178.01 48.61Z" fill="#333333"/>
<path d="M180.95 62.06L183.35 64.46L180.95 66.86L178.55 64.46Z" fill="#333333"/>
<path d="M180.95 74.66L183.35 77.06L180.95 79.46L178.55 77.06Z" fill="#333333"/>
<path d="M197.16 12.54L199.56 14.94L197.16 17.34L194.76 14.94Z" fill="#333333"/>
<path d="M197.52 30.91L199.92 33.31L197.52 35.71L195.12 33.31Z" fill="#333333"/>
<path d="M195.72 43.51L198.12 45.91L195.72 48.31L193.32 45.91Z" fill="#333333"/>
<path d="M197.52 43.51L199.92 45.91L197.52 48.31L195.12 45.91Z" fill="#333333"/>
<path d="M197.16 67.46L199.56 69.86L197.16 72.26L194.76 69.86Z" fill="#333333"/>
<line x1="173.50" y1="5.40" x2="173.50" y2="102.90" stroke="#444444" stroke-width="1"/>
<line x1="173.00" y1="102.50" x2="205.60" y2="102.50" stroke="#444444" stroke-width="1"/>
<line x1="170.10" y1="102.50" x2="173.50" y2="102.50" stroke="#444444" stroke-width="0.95"/>
<text x="167.50" y="105.00" class="tk">0</text>
<line x1="170.10" y1="86.50" x2="173.50" y2="86.50" stroke="#444444" stroke-width="0.95"/>
<text x="167.50" y="88.83" class="tk">20</text>
<line x1="170.10" y1="70.50" x2="173.50" y2="70.50" stroke="#444444" stroke-width="0.95"/>
<text x="167.50" y="72.67" class="tk">40</text>
<line x1="170.10" y1="53.50" x2="173.50" y2="53.50" stroke="#444444" stroke-width="0.95"/>
<text x="167.50" y="56.50" class="tk">60</text>
<line x1="170.10" y1="37.50" x2="173.50" y2="37.50" stroke="#444444" stroke-width="0.95"/>
<text x="167.50" y="40.33" class="tk">80</text>
<line x1="170.10" y1="21.50" x2="173.50" y2="21.50" stroke="#444444" stroke-width="0.95"/>
<text x="167.50" y="24.17" class="tk">100</text>
<line x1="170.10" y1="5.50" x2="173.50" y2="5.50" stroke="#444444" stroke-width="0.95"/>
<text x="167.50" y="8.00" class="tk">120</text>
<line x1="171.40" y1="94.50" x2="173.50" y2="94.50" stroke="#444444" stroke-width="0.9"/>
<line x1="171.40" y1="78.50" x2="173.50" y2="78.50" stroke="#444444" stroke-width="0.9"/>
<line x1="171.40" y1="61.50" x2="173.50" y2="61.50" stroke="#444444" stroke-width="0.9"/>
<line x1="171.40" y1="45.50" x2="173.50" y2="45.50" stroke="#444444" stroke-width="0.9"/>
<line x1="171.40" y1="29.50" x2="173.50" y2="29.50" stroke="#444444" stroke-width="0.9"/>
<line x1="171.40" y1="13.50" x2="173.50" y2="13.50" stroke="#444444" stroke-width="0.9"/>
<line x1="181.85" y1="102.40" x2="181.85" y2="105.40" stroke="#444444" stroke-width="0.8"/>
<line x1="197.55" y1="102.40" x2="197.55" y2="105.40" stroke="#444444" stroke-width="0.8"/>
<text x="181.85" y="114.60" class="xl" text-anchor="middle">NFD</text>
<text x="197.55" y="114.60" class="xl" text-anchor="middle">HFD</text>
<text transform="translate(152.80 53.80) rotate(-90)" class="yl" text-anchor="middle">Isobutyric acid</text>
<rect x="242.50" y="45.40" width="9.90" height="57.00" fill="#35bf6c" stroke="#3a3a3a" stroke-width="0.55"/>
<rect x="257.70" y="76.50" width="10.20" height="25.90" fill="#ff6262" stroke="#3a3a3a" stroke-width="0.55"/>
<line x1="247.50" y1="13.86" x2="247.50" y2="45.40" stroke="#555555" stroke-width="1.0"/>
<line x1="244.90" y1="13.86" x2="250.10" y2="13.86" stroke="#555555" stroke-width="1.0"/>
<line x1="262.50" y1="68.96" x2="262.50" y2="76.50" stroke="#555555" stroke-width="1.0"/>
<line x1="259.90" y1="68.96" x2="265.10" y2="68.96" stroke="#555555" stroke-width="1.0"/>
<path d="M246.85 11.46L249.25 13.86L246.85 16.26L244.45 13.86Z" fill="#333333"/>
<path d="M246.31 29.65L248.71 32.05L246.31 34.45L243.91 32.05Z" fill="#333333"/>
<path d="M246.85 51.62L249.25 54.02L246.85 56.42L244.45 54.02Z" fill="#333333"/>
<path d="M245.41 60.62L247.81 63.02L245.41 65.42L243.01 63.02Z" fill="#333333"/>
<path d="M248.66 60.26L251.06 62.66L248.66 65.06L246.26 62.66Z" fill="#333333"/>
<path d="M263.06 66.56L265.46 68.96L263.06 71.36L260.66 68.96Z" fill="#333333"/>
<path d="M262.52 71.96L264.92 74.36L262.52 76.76L260.12 74.36Z" fill="#333333"/>
<path d="M261.98 75.02L264.38 77.42L261.98 79.82L259.58 77.42Z" fill="#333333"/>
<path d="M263.06 77.72L265.46 80.12L263.06 82.52L260.66 80.12Z" fill="#333333"/>
<path d="M261.62 81.32L264.02 83.72L261.62 86.12L259.22 83.72Z" fill="#333333"/>
<line x1="239.50" y1="5.40" x2="239.50" y2="102.90" stroke="#444444" stroke-width="1"/>
<line x1="239.00" y1="102.50" x2="270.90" y2="102.50" stroke="#444444" stroke-width="1"/>
<line x1="236.10" y1="102.50" x2="239.50" y2="102.50" stroke="#444444" stroke-width="0.95"/>
<text x="233.50" y="105.00" class="tk">0</text>
<line x1="236.10" y1="89.50" x2="239.50" y2="89.50" stroke="#444444" stroke-width="0.95"/>
<text x="233.50" y="92.04" class="tk">200</text>
<line x1="236.10" y1="76.50" x2="239.50" y2="76.50" stroke="#444444" stroke-width="0.95"/>
<text x="233.50" y="79.09" class="tk">400</text>
<line x1="236.10" y1="63.50" x2="239.50" y2="63.50" stroke="#444444" stroke-width="0.95"/>
<text x="233.50" y="66.13" class="tk">600</text>
<line x1="236.10" y1="50.50" x2="239.50" y2="50.50" stroke="#444444" stroke-width="0.95"/>
<text x="233.50" y="53.17" class="tk">800</text>
<line x1="236.10" y1="37.50" x2="239.50" y2="37.50" stroke="#444444" stroke-width="0.95"/>
<text x="233.50" y="40.21" class="tk">1000</text>
<line x1="236.10" y1="24.50" x2="239.50" y2="24.50" stroke="#444444" stroke-width="0.95"/>
<text x="233.50" y="27.26" class="tk">1200</text>
<line x1="236.10" y1="11.50" x2="239.50" y2="11.50" stroke="#444444" stroke-width="0.95"/>
<text x="233.50" y="14.30" class="tk">1400</text>
<line x1="237.40" y1="95.50" x2="239.50" y2="95.50" stroke="#444444" stroke-width="0.9"/>
<line x1="237.40" y1="82.50" x2="239.50" y2="82.50" stroke="#444444" stroke-width="0.9"/>
<line x1="237.40" y1="70.50" x2="239.50" y2="70.50" stroke="#444444" stroke-width="0.9"/>
<line x1="237.40" y1="57.50" x2="239.50" y2="57.50" stroke="#444444" stroke-width="0.9"/>
<line x1="237.40" y1="44.50" x2="239.50" y2="44.50" stroke="#444444" stroke-width="0.9"/>
<line x1="237.40" y1="31.50" x2="239.50" y2="31.50" stroke="#444444" stroke-width="0.9"/>
<line x1="237.40" y1="18.50" x2="239.50" y2="18.50" stroke="#444444" stroke-width="0.9"/>
<line x1="247.45" y1="102.40" x2="247.45" y2="105.40" stroke="#444444" stroke-width="0.8"/>
<line x1="262.80" y1="102.40" x2="262.80" y2="105.40" stroke="#444444" stroke-width="0.8"/>
<text x="247.45" y="114.60" class="xl" text-anchor="middle">NFD</text>
<text x="262.80" y="114.60" class="xl" text-anchor="middle">HFD</text>
<text transform="translate(214.70 53.80) rotate(-90)" class="yl" text-anchor="middle">Butyric acid</text>
<line x1="247.90" y1="9.85" x2="263.10" y2="9.85" stroke="#333" stroke-width="1.0"/>
<path d="M256.20 5.05L256.20 7.95M254.94 5.78L257.46 7.22M257.46 5.78L254.94 7.22" stroke="#4a4a4a" stroke-width="0.75" stroke-linecap="round" fill="none"/>
<rect x="305.40" y="57.30" width="10.10" height="45.10" fill="#35bf6c" stroke="#3a3a3a" stroke-width="0.55"/>
<rect x="321.20" y="44.30" width="10.30" height="58.10" fill="#ff6262" stroke="#3a3a3a" stroke-width="0.55"/>
<line x1="310.50" y1="18.01" x2="310.50" y2="57.30" stroke="#555555" stroke-width="1.0"/>
<line x1="307.90" y1="18.01" x2="313.10" y2="18.01" stroke="#555555" stroke-width="1.0"/>
<path d="M310.95 15.61L313.35 18.01L310.95 20.41L308.55 18.01Z" fill="#333333"/>
<path d="M311.85 48.91L314.25 51.31L311.85 53.71L309.45 51.31Z" fill="#333333"/>
<path d="M308.97 53.78L311.37 56.18L308.97 58.58L306.57 56.18Z" fill="#333333"/>
<path d="M310.05 72.32L312.45 74.72L310.05 77.12L307.65 74.72Z" fill="#333333"/>
<path d="M309.87 84.92L312.27 87.32L309.87 89.72L307.47 87.32Z" fill="#333333"/>
<path d="M326.26 15.61L328.66 18.01L326.26 20.41L323.86 18.01Z" fill="#333333"/>
<path d="M326.62 38.65L329.02 41.05L326.62 43.45L324.22 41.05Z" fill="#333333"/>
<path d="M327.16 39.91L329.56 42.31L327.16 44.71L324.76 42.31Z" fill="#333333"/>
<path d="M325.18 48.37L327.58 50.77L325.18 53.17L322.78 50.77Z" fill="#333333"/>
<path d="M326.62 68.36L329.02 70.76L326.62 73.16L324.22 70.76Z" fill="#333333"/>
<line x1="302.50" y1="5.40" x2="302.50" y2="102.90" stroke="#444444" stroke-width="1"/>
<line x1="302.00" y1="102.50" x2="334.50" y2="102.50" stroke="#444444" stroke-width="1"/>
<line x1="299.10" y1="102.50" x2="302.50" y2="102.50" stroke="#444444" stroke-width="0.95"/>
<text x="296.50" y="105.00" class="tk">0</text>
<line x1="299.10" y1="83.50" x2="302.50" y2="83.50" stroke="#444444" stroke-width="0.95"/>
<text x="296.50" y="85.60" class="tk">20</text>
<line x1="299.10" y1="63.50" x2="302.50" y2="63.50" stroke="#444444" stroke-width="0.95"/>
<text x="296.50" y="66.20" class="tk">40</text>
<line x1="299.10" y1="44.50" x2="302.50" y2="44.50" stroke="#444444" stroke-width="0.95"/>
<text x="296.50" y="46.80" class="tk">60</text>
<line x1="299.10" y1="24.50" x2="302.50" y2="24.50" stroke="#444444" stroke-width="0.95"/>
<text x="296.50" y="27.40" class="tk">80</text>
<line x1="299.10" y1="5.50" x2="302.50" y2="5.50" stroke="#444444" stroke-width="0.95"/>
<text x="296.50" y="8.00" class="tk">100</text>
<line x1="300.40" y1="92.50" x2="302.50" y2="92.50" stroke="#444444" stroke-width="0.9"/>
<line x1="300.40" y1="73.50" x2="302.50" y2="73.50" stroke="#444444" stroke-width="0.9"/>
<line x1="300.40" y1="53.50" x2="302.50" y2="53.50" stroke="#444444" stroke-width="0.9"/>
<line x1="300.40" y1="34.50" x2="302.50" y2="34.50" stroke="#444444" stroke-width="0.9"/>
<line x1="300.40" y1="15.50" x2="302.50" y2="15.50" stroke="#444444" stroke-width="0.9"/>
<line x1="310.45" y1="102.40" x2="310.45" y2="105.40" stroke="#444444" stroke-width="0.8"/>
<line x1="326.35" y1="102.40" x2="326.35" y2="105.40" stroke="#444444" stroke-width="0.8"/>
<text x="310.45" y="114.60" class="xl" text-anchor="middle">NFD</text>
<text x="326.35" y="114.60" class="xl" text-anchor="middle">HFD</text>
<text transform="translate(281.50 53.80) rotate(-90)" class="yl" text-anchor="middle">Isovaleric acid</text>
<rect x="368.80" y="45.90" width="10.20" height="56.50" fill="#35bf6c" stroke="#3a3a3a" stroke-width="0.55"/>
<rect x="384.40" y="47.40" width="10.30" height="55.00" fill="#ff6262" stroke="#3a3a3a" stroke-width="0.55"/>
<line x1="389.50" y1="26.65" x2="389.50" y2="47.40" stroke="#555555" stroke-width="1.0"/>
<line x1="386.90" y1="26.65" x2="392.10" y2="26.65" stroke="#555555" stroke-width="1.0"/>
<path d="M373.25 12.00L375.65 14.40L373.25 16.80L370.85 14.40Z" fill="#333333"/>
<path d="M373.25 42.61L375.65 45.01L373.25 47.41L370.85 45.01Z" fill="#333333"/>
<path d="M372.71 45.85L375.11 48.25L372.71 50.65L370.31 48.25Z" fill="#333333"/>
<path d="M375.05 54.32L377.45 56.72L375.05 59.12L372.65 56.72Z" fill="#333333"/>
<path d="M372.35 63.86L374.75 66.26L372.35 68.66L369.95 66.26Z" fill="#333333"/>
<path d="M389.82 24.61L392.22 27.01L389.82 29.41L387.42 27.01Z" fill="#333333"/>
<path d="M389.28 27.31L391.68 29.71L389.28 32.11L386.88 29.71Z" fill="#333333"/>
<path d="M389.46 55.22L391.86 57.62L389.46 60.02L387.06 57.62Z" fill="#333333"/>
<path d="M388.38 58.82L390.78 61.22L388.38 63.62L385.98 61.22Z" fill="#333333"/>
<path d="M389.46 59.72L391.86 62.12L389.46 64.52L387.06 62.12Z" fill="#333333"/>
<line x1="366.50" y1="5.40" x2="366.50" y2="102.90" stroke="#444444" stroke-width="1"/>
<line x1="366.00" y1="102.50" x2="397.70" y2="102.50" stroke="#444444" stroke-width="1"/>
<line x1="363.10" y1="102.50" x2="366.50" y2="102.50" stroke="#444444" stroke-width="0.95"/>
<text x="360.50" y="105.00" class="tk">0</text>
<line x1="363.10" y1="92.50" x2="366.50" y2="92.50" stroke="#444444" stroke-width="0.95"/>
<text x="360.50" y="95.30" class="tk">20</text>
<line x1="363.10" y1="83.50" x2="366.50" y2="83.50" stroke="#444444" stroke-width="0.95"/>
<text x="360.50" y="85.60" class="tk">40</text>
<line x1="363.10" y1="73.50" x2="366.50" y2="73.50" stroke="#444444" stroke-width="0.95"/>
<text x="360.50" y="75.90" class="tk">60</text>
<line x1="363.10" y1="63.50" x2="366.50" y2="63.50" stroke="#444444" stroke-width="0.95"/>
<text x="360.50" y="66.20" class="tk">80</text>
<line x1="363.10" y1="53.50" x2="366.50" y2="53.50" stroke="#444444" stroke-width="0.95"/>
<text x="360.50" y="56.50" class="tk">100</text>
<line x1="363.10" y1="44.50" x2="366.50" y2="44.50" stroke="#444444" stroke-width="0.95"/>
<text x="360.50" y="46.80" class="tk">120</text>
<line x1="363.10" y1="34.50" x2="366.50" y2="34.50" stroke="#444444" stroke-width="0.95"/>
<text x="360.50" y="37.10" class="tk">140</text>
<line x1="363.10" y1="24.50" x2="366.50" y2="24.50" stroke="#444444" stroke-width="0.95"/>
<text x="360.50" y="27.40" class="tk">160</text>
<line x1="363.10" y1="15.50" x2="366.50" y2="15.50" stroke="#444444" stroke-width="0.95"/>
<text x="360.50" y="17.70" class="tk">180</text>
<line x1="363.10" y1="5.50" x2="366.50" y2="5.50" stroke="#444444" stroke-width="0.95"/>
<text x="360.50" y="8.00" class="tk">200</text>
<line x1="364.40" y1="97.50" x2="366.50" y2="97.50" stroke="#444444" stroke-width="0.9"/>
<line x1="364.40" y1="87.50" x2="366.50" y2="87.50" stroke="#444444" stroke-width="0.9"/>
<line x1="364.40" y1="78.50" x2="366.50" y2="78.50" stroke="#444444" stroke-width="0.9"/>
<line x1="364.40" y1="68.50" x2="366.50" y2="68.50" stroke="#444444" stroke-width="0.9"/>
<line x1="364.40" y1="58.50" x2="366.50" y2="58.50" stroke="#444444" stroke-width="0.9"/>
<line x1="364.40" y1="49.50" x2="366.50" y2="49.50" stroke="#444444" stroke-width="0.9"/>
<line x1="364.40" y1="39.50" x2="366.50" y2="39.50" stroke="#444444" stroke-width="0.9"/>
<line x1="364.40" y1="29.50" x2="366.50" y2="29.50" stroke="#444444" stroke-width="0.9"/>
<line x1="364.40" y1="19.50" x2="366.50" y2="19.50" stroke="#444444" stroke-width="0.9"/>
<line x1="364.40" y1="10.50" x2="366.50" y2="10.50" stroke="#444444" stroke-width="0.9"/>
<line x1="373.90" y1="102.40" x2="373.90" y2="105.40" stroke="#444444" stroke-width="0.8"/>
<line x1="389.55" y1="102.40" x2="389.55" y2="105.40" stroke="#444444" stroke-width="0.8"/>
<text x="373.90" y="114.60" class="xl" text-anchor="middle">NFD</text>
<text x="389.55" y="114.60" class="xl" text-anchor="middle">HFD</text>
<text transform="translate(344.70 53.80) rotate(-90)" class="yl" text-anchor="middle">Valeric acid</text>
<rect x="432.30" y="43.20" width="11.40" height="59.20" fill="#35bf6c" stroke="#3a3a3a" stroke-width="0.55"/>
<rect x="449.40" y="44.10" width="11.40" height="58.30" fill="#ff6262" stroke="#3a3a3a" stroke-width="0.55"/>
<path d="M437.17 15.24L439.57 17.64L437.17 20.04L434.77 17.64Z" fill="#333333"/>
<path d="M436.45 39.37L438.85 41.77L436.45 44.17L434.05 41.77Z" fill="#333333"/>
<path d="M439.51 40.81L441.91 43.21L439.51 45.61L437.11 43.21Z" fill="#333333"/>
<path d="M436.81 46.57L439.21 48.97L436.81 51.37L434.41 48.97Z" fill="#333333"/>
<path d="M437.71 61.16L440.11 63.56L437.71 65.96L435.31 63.56Z" fill="#333333"/>
<path d="M455.36 11.10L457.76 13.50L455.36 15.90L452.96 13.50Z" fill="#333333"/>
<path d="M456.62 39.91L459.02 42.31L456.62 44.71L454.22 42.31Z" fill="#333333"/>
<path d="M455.18 45.31L457.58 47.71L455.18 50.11L452.78 47.71Z" fill="#333333"/>
<path d="M454.46 57.02L456.86 59.42L454.46 61.82L452.06 59.42Z" fill="#333333"/>
<path d="M456.26 57.38L458.66 59.78L456.26 62.18L453.86 59.78Z" fill="#333333"/>
<line x1="429.50" y1="5.40" x2="429.50" y2="102.90" stroke="#444444" stroke-width="1"/>
<line x1="429.00" y1="102.50" x2="463.80" y2="102.50" stroke="#444444" stroke-width="1"/>
<line x1="426.10" y1="102.50" x2="429.50" y2="102.50" stroke="#444444" stroke-width="0.95"/>
<text x="423.50" y="105.00" class="tk">0.0</text>
<line x1="426.10" y1="84.50" x2="429.50" y2="84.50" stroke="#444444" stroke-width="0.95"/>
<text x="423.50" y="87.40" class="tk">0.2</text>
<line x1="426.10" y1="67.50" x2="429.50" y2="67.50" stroke="#444444" stroke-width="0.95"/>
<text x="423.50" y="69.80" class="tk">0.4</text>
<line x1="426.10" y1="49.50" x2="429.50" y2="49.50" stroke="#444444" stroke-width="0.95"/>
<text x="423.50" y="52.20" class="tk">0.6</text>
<line x1="426.10" y1="32.50" x2="429.50" y2="32.50" stroke="#444444" stroke-width="0.95"/>
<text x="423.50" y="34.60" class="tk">0.8</text>
<line x1="426.10" y1="14.50" x2="429.50" y2="14.50" stroke="#444444" stroke-width="0.95"/>
<text x="423.50" y="17.00" class="tk">1.0</text>
<line x1="427.40" y1="93.50" x2="429.50" y2="93.50" stroke="#444444" stroke-width="0.9"/>
<line x1="427.40" y1="76.50" x2="429.50" y2="76.50" stroke="#444444" stroke-width="0.9"/>
<line x1="427.40" y1="58.50" x2="429.50" y2="58.50" stroke="#444444" stroke-width="0.9"/>
<line x1="427.40" y1="40.50" x2="429.50" y2="40.50" stroke="#444444" stroke-width="0.9"/>
<line x1="427.40" y1="23.50" x2="429.50" y2="23.50" stroke="#444444" stroke-width="0.9"/>
<line x1="427.40" y1="5.50" x2="429.50" y2="5.50" stroke="#444444" stroke-width="0.9"/>
<line x1="438.00" y1="102.40" x2="438.00" y2="105.40" stroke="#444444" stroke-width="0.8"/>
<line x1="455.10" y1="102.40" x2="455.10" y2="105.40" stroke="#444444" stroke-width="0.8"/>
<text x="438.00" y="114.60" class="xl" text-anchor="middle">NFD</text>
<text x="455.10" y="114.60" class="xl" text-anchor="middle">HFD</text>
<text transform="translate(409.70 53.80) rotate(-90)" class="yl" text-anchor="middle">Decanoic acid</text>
<rect x="493.80" y="30.20" width="11.60" height="72.20" fill="#35bf6c" stroke="#3a3a3a" stroke-width="0.55"/>
<rect x="511.30" y="21.60" width="11.40" height="80.80" fill="#ff6262" stroke="#3a3a3a" stroke-width="0.55"/>
<line x1="499.50" y1="16.56" x2="499.50" y2="30.20" stroke="#555555" stroke-width="1.0"/>
<line x1="496.90" y1="16.56" x2="502.10" y2="16.56" stroke="#555555" stroke-width="1.0"/>
<path d="M498.35 14.16L500.75 16.56L498.35 18.96L495.95 16.56Z" fill="#333333"/>
<path d="M497.45 21.37L499.85 23.77L497.45 26.17L495.05 23.77Z" fill="#333333"/>
<path d="M500.51 28.21L502.91 30.61L500.51 33.01L498.11 30.61Z" fill="#333333"/>
<path d="M499.25 31.81L501.65 34.21L499.25 36.61L496.85 34.21Z" fill="#333333"/>
<path d="M498.35 44.77L500.75 47.17L498.35 49.57L495.95 47.17Z" fill="#333333"/>
<path d="M517.26 15.61L519.66 18.01L517.26 20.41L514.86 18.01Z" fill="#333333"/>
<path d="M515.82 17.41L518.22 19.81L515.82 22.21L513.42 19.81Z" fill="#333333"/>
<path d="M517.98 19.57L520.38 21.97L517.98 24.37L515.58 21.97Z" fill="#333333"/>
<path d="M516.72 21.91L519.12 24.31L516.72 26.71L514.32 24.31Z" fill="#333333"/>
<path d="M517.26 22.81L519.66 25.21L517.26 27.61L514.86 25.21Z" fill="#333333"/>
<line x1="490.50" y1="5.40" x2="490.50" y2="102.90" stroke="#444444" stroke-width="1"/>
<line x1="490.00" y1="102.50" x2="525.70" y2="102.50" stroke="#444444" stroke-width="1"/>
<line x1="487.10" y1="102.50" x2="490.50" y2="102.50" stroke="#444444" stroke-width="0.95"/>
<text x="484.50" y="105.00" class="tk">0</text>
<line x1="487.10" y1="87.50" x2="490.50" y2="87.50" stroke="#444444" stroke-width="0.95"/>
<text x="484.50" y="90.03" class="tk">1</text>
<line x1="487.10" y1="72.50" x2="490.50" y2="72.50" stroke="#444444" stroke-width="0.95"/>
<text x="484.50" y="75.07" class="tk">2</text>
<line x1="487.10" y1="57.50" x2="490.50" y2="57.50" stroke="#444444" stroke-width="0.95"/>
<text x="484.50" y="60.10" class="tk">3</text>
<line x1="487.10" y1="42.50" x2="490.50" y2="42.50" stroke="#444444" stroke-width="0.95"/>
<text x="484.50" y="45.13" class="tk">4</text>
<line x1="487.10" y1="27.50" x2="490.50" y2="27.50" stroke="#444444" stroke-width="0.95"/>
<text x="484.50" y="30.17" class="tk">5</text>
<line x1="487.10" y1="12.50" x2="490.50" y2="12.50" stroke="#444444" stroke-width="0.95"/>
<text x="484.50" y="15.20" class="tk">6</text>
<line x1="488.40" y1="94.50" x2="490.50" y2="94.50" stroke="#444444" stroke-width="0.9"/>
<line x1="488.40" y1="79.50" x2="490.50" y2="79.50" stroke="#444444" stroke-width="0.9"/>
<line x1="488.40" y1="64.50" x2="490.50" y2="64.50" stroke="#444444" stroke-width="0.9"/>
<line x1="488.40" y1="50.50" x2="490.50" y2="50.50" stroke="#444444" stroke-width="0.9"/>
<line x1="488.40" y1="35.50" x2="490.50" y2="35.50" stroke="#444444" stroke-width="0.9"/>
<line x1="488.40" y1="20.50" x2="490.50" y2="20.50" stroke="#444444" stroke-width="0.9"/>
<line x1="499.60" y1="102.40" x2="499.60" y2="105.40" stroke="#444444" stroke-width="0.8"/>
<line x1="517.00" y1="102.40" x2="517.00" y2="105.40" stroke="#444444" stroke-width="0.8"/>
<text x="499.60" y="114.60" class="xl" text-anchor="middle">NFD</text>
<text x="517.00" y="114.60" class="xl" text-anchor="middle">HFD</text>
<text transform="translate(477.90 53.80) rotate(-90)" class="yl" text-anchor="middle">Nonanoic acid</text>
<rect x="559.60" y="31.70" width="10.40" height="70.70" fill="#35bf6c" stroke="#3a3a3a" stroke-width="0.55"/>
<rect x="576.70" y="39.60" width="10.70" height="62.80" fill="#ff6262" stroke="#3a3a3a" stroke-width="0.55"/>
<line x1="564.50" y1="14.60" x2="564.50" y2="31.70" stroke="#555555" stroke-width="1.0"/>
<line x1="561.90" y1="14.60" x2="567.10" y2="14.60" stroke="#555555" stroke-width="1.0"/>
<line x1="582.50" y1="27.01" x2="582.50" y2="39.60" stroke="#555555" stroke-width="1.0"/>
<line x1="579.90" y1="27.01" x2="585.10" y2="27.01" stroke="#555555" stroke-width="1.0"/>
<path d="M562.90 12.20L565.30 14.60L562.90 17.00L560.50 14.60Z" fill="#333333"/>
<path d="M564.30 18.50L566.70 20.90L564.30 23.30L561.90 20.90Z" fill="#333333"/>
<path d="M563.30 23.70L565.70 26.10L563.30 28.50L560.90 26.10Z" fill="#333333"/>
<path d="M565.90 42.40L568.30 44.80L565.90 47.20L563.50 44.80Z" fill="#333333"/>
<path d="M563.50 49.80L565.90 52.20L563.50 54.60L561.10 52.20Z" fill="#333333"/>
<path d="M582.07 24.61L584.47 27.01L582.07 29.41L579.67 27.01Z" fill="#333333"/>
<path d="M582.43 34.51L584.83 36.91L582.43 39.31L580.03 36.91Z" fill="#333333"/>
<path d="M582.97 38.11L585.37 40.51L582.97 42.91L580.57 40.51Z" fill="#333333"/>
<path d="M581.17 44.77L583.57 47.17L581.17 49.57L578.77 47.17Z" fill="#333333"/>
<path d="M582.07 45.31L584.47 47.71L582.07 50.11L579.67 47.71Z" fill="#333333"/>
<line x1="556.50" y1="5.40" x2="556.50" y2="102.90" stroke="#444444" stroke-width="1"/>
<line x1="556.00" y1="102.50" x2="590.40" y2="102.50" stroke="#444444" stroke-width="1"/>
<line x1="553.10" y1="102.50" x2="556.50" y2="102.50" stroke="#444444" stroke-width="0.95"/>
<text x="550.50" y="105.00" class="tk">0.0</text>
<line x1="553.10" y1="83.50" x2="556.50" y2="83.50" stroke="#444444" stroke-width="0.95"/>
<text x="550.50" y="85.60" class="tk">0.2</text>
<line x1="553.10" y1="63.50" x2="556.50" y2="63.50" stroke="#444444" stroke-width="0.95"/>
<text x="550.50" y="66.20" class="tk">0.4</text>
<line x1="553.10" y1="44.50" x2="556.50" y2="44.50" stroke="#444444" stroke-width="0.95"/>
<text x="550.50" y="46.80" class="tk">0.6</text>
<line x1="553.10" y1="24.50" x2="556.50" y2="24.50" stroke="#444444" stroke-width="0.95"/>
<text x="550.50" y="27.40" class="tk">0.8</text>
<line x1="553.10" y1="5.50" x2="556.50" y2="5.50" stroke="#444444" stroke-width="0.95"/>
<text x="550.50" y="8.00" class="tk">1.0</text>
<line x1="554.40" y1="92.50" x2="556.50" y2="92.50" stroke="#444444" stroke-width="0.9"/>
<line x1="554.40" y1="73.50" x2="556.50" y2="73.50" stroke="#444444" stroke-width="0.9"/>
<line x1="554.40" y1="53.50" x2="556.50" y2="53.50" stroke="#444444" stroke-width="0.9"/>
<line x1="554.40" y1="34.50" x2="556.50" y2="34.50" stroke="#444444" stroke-width="0.9"/>
<line x1="554.40" y1="15.50" x2="556.50" y2="15.50" stroke="#444444" stroke-width="0.9"/>
<line x1="564.80" y1="102.40" x2="564.80" y2="105.40" stroke="#444444" stroke-width="0.8"/>
<line x1="582.05" y1="102.40" x2="582.05" y2="105.40" stroke="#444444" stroke-width="0.8"/>
<text x="564.80" y="114.60" class="xl" text-anchor="middle">NFD</text>
<text x="582.05" y="114.60" class="xl" text-anchor="middle">HFD</text>
<text transform="translate(536.40 53.80) rotate(-90)" class="yl" text-anchor="middle">Octanoic acid</text>
<rect x="624.00" y="26.50" width="11.60" height="75.90" fill="#35bf6c" stroke="#3a3a3a" stroke-width="0.55"/>
<rect x="641.50" y="34.60" width="11.40" height="67.80" fill="#ff6262" stroke="#3a3a3a" stroke-width="0.55"/>
<line x1="646.50" y1="20.17" x2="646.50" y2="34.60" stroke="#555555" stroke-width="1.0"/>
<line x1="643.90" y1="20.17" x2="649.10" y2="20.17" stroke="#555555" stroke-width="1.0"/>
<path d="M629.45 10.56L631.85 12.96L629.45 15.36L627.05 12.96Z" fill="#333333"/>
<path d="M628.01 21.91L630.41 24.31L628.01 26.71L625.61 24.31Z" fill="#333333"/>
<path d="M629.81 26.41L632.21 28.81L629.81 31.21L627.41 28.81Z" fill="#333333"/>
<path d="M628.91 29.11L631.31 31.51L628.91 33.91L626.51 31.51Z" fill="#333333"/>
<path d="M628.01 32.71L630.41 35.11L628.01 37.51L625.61 35.11Z" fill="#333333"/>
<path d="M646.92 17.77L649.32 20.17L646.92 22.57L644.52 20.17Z" fill="#333333"/>
<path d="M647.82 28.75L650.22 31.15L647.82 33.55L645.42 31.15Z" fill="#333333"/>
<path d="M646.56 34.51L648.96 36.91L646.56 39.31L644.16 36.91Z" fill="#333333"/>
<path d="M646.92 36.31L649.32 38.71L646.92 41.11L644.52 38.71Z" fill="#333333"/>
<path d="M646.02 43.15L648.42 45.55L646.02 47.95L643.62 45.55Z" fill="#333333"/>
<line x1="621.50" y1="5.40" x2="621.50" y2="102.90" stroke="#444444" stroke-width="1"/>
<line x1="621.00" y1="102.50" x2="655.90" y2="102.50" stroke="#444444" stroke-width="1"/>
<line x1="618.10" y1="102.50" x2="621.50" y2="102.50" stroke="#444444" stroke-width="0.95"/>
<text x="615.50" y="105.00" class="tk">0.0</text>
<line x1="618.10" y1="89.50" x2="621.50" y2="89.50" stroke="#444444" stroke-width="0.95"/>
<text x="615.50" y="92.11" class="tk">0.1</text>
<line x1="618.10" y1="76.50" x2="621.50" y2="76.50" stroke="#444444" stroke-width="0.95"/>
<text x="615.50" y="79.23" class="tk">0.2</text>
<line x1="618.10" y1="63.50" x2="621.50" y2="63.50" stroke="#444444" stroke-width="0.95"/>
<text x="615.50" y="66.34" class="tk">0.3</text>
<line x1="618.10" y1="50.50" x2="621.50" y2="50.50" stroke="#444444" stroke-width="0.95"/>
<text x="615.50" y="53.46" class="tk">0.4</text>
<line x1="618.10" y1="37.50" x2="621.50" y2="37.50" stroke="#444444" stroke-width="0.95"/>
<text x="615.50" y="40.57" class="tk">0.5</text>
<line x1="618.10" y1="25.50" x2="621.50" y2="25.50" stroke="#444444" stroke-width="0.95"/>
<text x="615.50" y="27.69" class="tk">0.6</text>
<line x1="618.10" y1="12.50" x2="621.50" y2="12.50" stroke="#444444" stroke-width="0.95"/>
<text x="615.50" y="14.80" class="tk">0.7</text>
<line x1="619.40" y1="95.50" x2="621.50" y2="95.50" stroke="#444444" stroke-width="0.9"/>
<line x1="619.40" y1="83.50" x2="621.50" y2="83.50" stroke="#444444" stroke-width="0.9"/>
<line x1="619.40" y1="70.50" x2="621.50" y2="70.50" stroke="#444444" stroke-width="0.9"/>
<line x1="619.40" y1="57.50" x2="621.50" y2="57.50" stroke="#444444" stroke-width="0.9"/>
<line x1="619.40" y1="44.50" x2="621.50" y2="44.50" stroke="#444444" stroke-width="0.9"/>
<line x1="619.40" y1="31.50" x2="621.50" y2="31.50" stroke="#444444" stroke-width="0.9"/>
<line x1="619.40" y1="18.50" x2="621.50" y2="18.50" stroke="#444444" stroke-width="0.9"/>
<line x1="619.40" y1="5.50" x2="621.50" y2="5.50" stroke="#444444" stroke-width="0.9"/>
<line x1="629.80" y1="102.40" x2="629.80" y2="105.40" stroke="#444444" stroke-width="0.8"/>
<line x1="647.20" y1="102.40" x2="647.20" y2="105.40" stroke="#444444" stroke-width="0.8"/>
<text x="629.80" y="114.60" class="xl" text-anchor="middle">NFD</text>
<text x="647.20" y="114.60" class="xl" text-anchor="middle">HFD</text>
<text transform="translate(601.40 53.80) rotate(-90)" class="yl" text-anchor="middle">Heptanoic acid</text>
<rect x="689.20" y="30.10" width="11.40" height="72.30" fill="#35bf6c" stroke="#3a3a3a" stroke-width="0.55"/>
<rect x="706.70" y="55.30" width="11.00" height="47.10" fill="#ff6262" stroke="#3a3a3a" stroke-width="0.55"/>
<line x1="712.50" y1="43.75" x2="712.50" y2="55.30" stroke="#555555" stroke-width="1.0"/>
<line x1="709.90" y1="43.75" x2="715.10" y2="43.75" stroke="#555555" stroke-width="1.0"/>
<path d="M693.73 11.10L696.13 13.50L693.73 15.90L691.33 13.50Z" fill="#333333"/>
<path d="M696.07 21.01L698.47 23.41L696.07 25.81L693.67 23.41Z" fill="#333333"/>
<path d="M693.73 24.61L696.13 27.01L693.73 29.41L691.33 27.01Z" fill="#333333"/>
<path d="M693.73 27.31L696.13 29.71L693.73 32.11L691.33 29.71Z" fill="#333333"/>
<path d="M694.63 55.22L697.03 57.62L694.63 60.02L692.23 57.62Z" fill="#333333"/>
<path d="M712.27 41.35L714.67 43.75L712.27 46.15L709.87 43.75Z" fill="#333333"/>
<path d="M712.63 45.31L715.03 47.71L712.63 50.11L710.23 47.71Z" fill="#333333"/>
<path d="M712.27 64.58L714.67 66.98L712.27 69.38L709.87 66.98Z" fill="#333333"/>
<path d="M710.83 66.92L713.23 69.32L710.83 71.72L708.43 69.32Z" fill="#333333"/>
<line x1="686.50" y1="5.40" x2="686.50" y2="102.90" stroke="#444444" stroke-width="1"/>
<line x1="686.00" y1="102.50" x2="720.70" y2="102.50" stroke="#444444" stroke-width="1"/>
<line x1="683.10" y1="102.50" x2="686.50" y2="102.50" stroke="#444444" stroke-width="0.95"/>
<text x="680.50" y="105.00" class="tk">0.0</text>
<line x1="683.10" y1="90.50" x2="686.50" y2="90.50" stroke="#444444" stroke-width="0.95"/>
<text x="680.50" y="92.88" class="tk">0.5</text>
<line x1="683.10" y1="78.50" x2="686.50" y2="78.50" stroke="#444444" stroke-width="0.95"/>
<text x="680.50" y="80.75" class="tk">1.0</text>
<line x1="683.10" y1="66.50" x2="686.50" y2="66.50" stroke="#444444" stroke-width="0.95"/>
<text x="680.50" y="68.62" class="tk">1.5</text>
<line x1="683.10" y1="53.50" x2="686.50" y2="53.50" stroke="#444444" stroke-width="0.95"/>
<text x="680.50" y="56.50" class="tk">2.0</text>
<line x1="683.10" y1="41.50" x2="686.50" y2="41.50" stroke="#444444" stroke-width="0.95"/>
<text x="680.50" y="44.38" class="tk">2.5</text>
<line x1="683.10" y1="29.50" x2="686.50" y2="29.50" stroke="#444444" stroke-width="0.95"/>
<text x="680.50" y="32.25" class="tk">3.0</text>
<line x1="683.10" y1="17.50" x2="686.50" y2="17.50" stroke="#444444" stroke-width="0.95"/>
<text x="680.50" y="20.13" class="tk">3.5</text>
<line x1="683.10" y1="5.50" x2="686.50" y2="5.50" stroke="#444444" stroke-width="0.95"/>
<text x="680.50" y="8.00" class="tk">4.0</text>
<line x1="684.40" y1="96.50" x2="686.50" y2="96.50" stroke="#444444" stroke-width="0.9"/>
<line x1="684.40" y1="84.50" x2="686.50" y2="84.50" stroke="#444444" stroke-width="0.9"/>
<line x1="684.40" y1="72.50" x2="686.50" y2="72.50" stroke="#444444" stroke-width="0.9"/>
<line x1="684.40" y1="59.50" x2="686.50" y2="59.50" stroke="#444444" stroke-width="0.9"/>
<line x1="684.40" y1="47.50" x2="686.50" y2="47.50" stroke="#444444" stroke-width="0.9"/>
<line x1="684.40" y1="35.50" x2="686.50" y2="35.50" stroke="#444444" stroke-width="0.9"/>
<line x1="684.40" y1="23.50" x2="686.50" y2="23.50" stroke="#444444" stroke-width="0.9"/>
<line x1="684.40" y1="11.50" x2="686.50" y2="11.50" stroke="#444444" stroke-width="0.9"/>
<line x1="694.90" y1="102.40" x2="694.90" y2="105.40" stroke="#444444" stroke-width="0.8"/>
<line x1="712.20" y1="102.40" x2="712.20" y2="105.40" stroke="#444444" stroke-width="0.8"/>
<text x="694.90" y="114.60" class="xl" text-anchor="middle">NFD</text>
<text x="712.20" y="114.60" class="xl" text-anchor="middle">HFD</text>
<text transform="translate(666.60 53.80) rotate(-90)" class="yl" text-anchor="middle">Hexanoic acid</text>
<line x1="695.80" y1="9.50" x2="708.70" y2="9.50" stroke="#333" stroke-width="1.0"/>
<path d="M701.90 4.55L701.90 7.45M700.64 5.28L703.16 6.72M703.16 5.28L700.64 6.72" stroke="#4a4a4a" stroke-width="0.75" stroke-linecap="round" fill="none"/>
<rect x="44.70" y="157.00" width="10.60" height="66.40" fill="#079694" stroke="#3a3a3a" stroke-width="0.55"/>
<rect x="60.90" y="173.20" width="10.60" height="50.20" fill="#d03230" stroke="#3a3a3a" stroke-width="0.55"/>
<line x1="49.50" y1="139.01" x2="49.50" y2="157.00" stroke="#555555" stroke-width="1.0"/>
<line x1="46.90" y1="139.01" x2="52.10" y2="139.01" stroke="#555555" stroke-width="1.0"/>
<line x1="66.50" y1="140.27" x2="66.50" y2="173.20" stroke="#555555" stroke-width="1.0"/>
<line x1="63.90" y1="140.27" x2="69.10" y2="140.27" stroke="#555555" stroke-width="1.0"/>
<path d="M48.25 136.61L50.65 139.01L48.25 141.41L45.85 139.01Z" fill="#333333"/>
<path d="M51.31 160.37L53.71 162.77L51.31 165.17L48.91 162.77Z" fill="#333333"/>
<path d="M48.61 167.58L51.01 169.98L48.61 172.38L46.21 169.98Z" fill="#333333"/>
<path d="M49.51 172.26L51.91 174.66L49.51 177.06L47.11 174.66Z" fill="#333333"/>
<path d="M66.26 137.87L68.66 140.27L66.26 142.67L63.86 140.27Z" fill="#333333"/>
<path d="M64.82 159.11L67.22 161.51L64.82 163.91L62.42 161.51Z" fill="#333333"/>
<path d="M66.62 177.12L69.02 179.52L66.62 181.92L64.22 179.52Z" fill="#333333"/>
<path d="M66.26 188.46L68.66 190.86L66.26 193.26L63.86 190.86Z" fill="#333333"/>
<path d="M66.26 190.98L68.66 193.38L66.26 195.78L63.86 193.38Z" fill="#333333"/>
<line x1="41.50" y1="126.40" x2="41.50" y2="223.90" stroke="#444444" stroke-width="1"/>
<line x1="41.00" y1="223.50" x2="74.50" y2="223.50" stroke="#444444" stroke-width="1"/>
<line x1="38.10" y1="223.50" x2="41.50" y2="223.50" stroke="#444444" stroke-width="0.95"/>
<text x="35.50" y="226.00" class="tk">0</text>
<line x1="38.10" y1="205.50" x2="41.50" y2="205.50" stroke="#444444" stroke-width="0.95"/>
<text x="35.50" y="208.32" class="tk">10</text>
<line x1="38.10" y1="188.50" x2="41.50" y2="188.50" stroke="#444444" stroke-width="0.95"/>
<text x="35.50" y="190.64" class="tk">20</text>
<line x1="38.10" y1="170.50" x2="41.50" y2="170.50" stroke="#444444" stroke-width="0.95"/>
<text x="35.50" y="172.96" class="tk">30</text>
<line x1="38.10" y1="152.50" x2="41.50" y2="152.50" stroke="#444444" stroke-width="0.95"/>
<text x="35.50" y="155.28" class="tk">40</text>
<line x1="38.10" y1="135.50" x2="41.50" y2="135.50" stroke="#444444" stroke-width="0.95"/>
<text x="35.50" y="137.60" class="tk">50</text>
<line x1="39.40" y1="214.50" x2="41.50" y2="214.50" stroke="#444444" stroke-width="0.9"/>
<line x1="39.40" y1="196.50" x2="41.50" y2="196.50" stroke="#444444" stroke-width="0.9"/>
<line x1="39.40" y1="179.50" x2="41.50" y2="179.50" stroke="#444444" stroke-width="0.9"/>
<line x1="39.40" y1="161.50" x2="41.50" y2="161.50" stroke="#444444" stroke-width="0.9"/>
<line x1="39.40" y1="143.50" x2="41.50" y2="143.50" stroke="#444444" stroke-width="0.9"/>
<line x1="50.00" y1="223.40" x2="50.00" y2="226.40" stroke="#444444" stroke-width="0.8"/>
<line x1="66.20" y1="223.40" x2="66.20" y2="226.40" stroke="#444444" stroke-width="0.8"/>
<text x="50.00" y="236.10" class="xl" text-anchor="middle">NFD</text>
<text x="66.20" y="236.10" class="xl" text-anchor="middle">HFD</text>
<text transform="translate(26.00 174.80) rotate(-90)" class="yl" text-anchor="middle">Acetic acid</text>
<rect x="105.50" y="171.00" width="10.50" height="52.40" fill="#079694" stroke="#3a3a3a" stroke-width="0.55"/>
<rect x="121.70" y="165.50" width="10.50" height="57.90" fill="#d03230" stroke="#3a3a3a" stroke-width="0.55"/>
<line x1="110.50" y1="159.17" x2="110.50" y2="171.00" stroke="#555555" stroke-width="1.0"/>
<line x1="107.90" y1="159.17" x2="113.10" y2="159.17" stroke="#555555" stroke-width="1.0"/>
<line x1="127.50" y1="135.41" x2="127.50" y2="165.50" stroke="#555555" stroke-width="1.0"/>
<line x1="124.90" y1="135.41" x2="130.10" y2="135.41" stroke="#555555" stroke-width="1.0"/>
<path d="M112.17 156.05L114.57 158.45L112.17 160.85L109.77 158.45Z" fill="#333333"/>
<path d="M108.75 158.57L111.15 160.97L108.75 163.37L106.35 160.97Z" fill="#333333"/>
<path d="M110.01 169.02L112.41 171.42L110.01 173.82L107.61 171.42Z" fill="#333333"/>
<path d="M109.65 173.52L112.05 175.92L109.65 178.32L107.25 175.92Z" fill="#333333"/>
<path d="M110.01 187.02L112.41 189.42L110.01 191.82L107.61 189.42Z" fill="#333333"/>
<path d="M127.12 133.01L129.52 135.41L127.12 137.81L124.72 135.41Z" fill="#333333"/>
<path d="M127.12 150.65L129.52 153.05L127.12 155.45L124.72 153.05Z" fill="#333333"/>
<path d="M126.22 166.86L128.62 169.26L126.22 171.66L123.82 169.26Z" fill="#333333"/>
<path d="M127.66 170.46L130.06 172.86L127.66 175.26L125.26 172.86Z" fill="#333333"/>
<path d="M127.12 195.66L129.52 198.06L127.12 200.46L124.72 198.06Z" fill="#333333"/>
<line x1="102.50" y1="126.40" x2="102.50" y2="223.90" stroke="#444444" stroke-width="1"/>
<line x1="102.00" y1="223.50" x2="135.20" y2="223.50" stroke="#444444" stroke-width="1"/>
<line x1="99.10" y1="223.50" x2="102.50" y2="223.50" stroke="#444444" stroke-width="0.95"/>
<text x="96.50" y="226.00" class="tk">0</text>
<line x1="99.10" y1="204.50" x2="102.50" y2="204.50" stroke="#444444" stroke-width="0.95"/>
<text x="96.50" y="206.60" class="tk">1</text>
<line x1="99.10" y1="184.50" x2="102.50" y2="184.50" stroke="#444444" stroke-width="0.95"/>
<text x="96.50" y="187.20" class="tk">2</text>
<line x1="99.10" y1="165.50" x2="102.50" y2="165.50" stroke="#444444" stroke-width="0.95"/>
<text x="96.50" y="167.80" class="tk">3</text>
<line x1="99.10" y1="145.50" x2="102.50" y2="145.50" stroke="#444444" stroke-width="0.95"/>
<text x="96.50" y="148.40" class="tk">4</text>
<line x1="99.10" y1="126.50" x2="102.50" y2="126.50" stroke="#444444" stroke-width="0.95"/>
<text x="96.50" y="129.00" class="tk">5</text>
<line x1="100.40" y1="213.50" x2="102.50" y2="213.50" stroke="#444444" stroke-width="0.9"/>
<line x1="100.40" y1="194.50" x2="102.50" y2="194.50" stroke="#444444" stroke-width="0.9"/>
<line x1="100.40" y1="174.50" x2="102.50" y2="174.50" stroke="#444444" stroke-width="0.9"/>
<line x1="100.40" y1="155.50" x2="102.50" y2="155.50" stroke="#444444" stroke-width="0.9"/>
<line x1="100.40" y1="136.50" x2="102.50" y2="136.50" stroke="#444444" stroke-width="0.9"/>
<line x1="110.75" y1="223.40" x2="110.75" y2="226.40" stroke="#444444" stroke-width="0.8"/>
<line x1="126.95" y1="223.40" x2="126.95" y2="226.40" stroke="#444444" stroke-width="0.8"/>
<text x="110.75" y="236.10" class="xl" text-anchor="middle">NFD</text>
<text x="126.95" y="236.10" class="xl" text-anchor="middle">HFD</text>
<text transform="translate(89.20 174.80) rotate(-90)" class="yl" text-anchor="middle">Propionic acid</text>
<rect x="172.30" y="201.10" width="10.30" height="22.30" fill="#079694" stroke="#3a3a3a" stroke-width="0.55"/>
<rect x="188.50" y="188.00" width="10.30" height="35.40" fill="#d03230" stroke="#3a3a3a" stroke-width="0.55"/>
<line x1="193.50" y1="175.02" x2="193.50" y2="188.00" stroke="#555555" stroke-width="1.0"/>
<line x1="190.90" y1="175.02" x2="196.10" y2="175.02" stroke="#555555" stroke-width="1.0"/>
<line x1="177.50" y1="201.10" x2="177.50" y2="210.80" stroke="#555555" stroke-width="1.0"/>
<line x1="174.90" y1="210.80" x2="180.10" y2="210.80" stroke="#555555" stroke-width="1.0"/>
<path d="M178.61 135.71L181.01 138.11L178.61 140.51L176.21 138.11Z" fill="#333333"/>
<path d="M177.17 208.27L179.57 210.67L177.17 213.07L174.77 210.67Z" fill="#333333"/>
<path d="M176.45 214.93L178.85 217.33L176.45 219.73L174.05 217.33Z" fill="#333333"/>
<path d="M176.45 220.87L178.85 223.27L176.45 225.67L174.05 223.27Z" fill="#333333"/>
<path d="M193.38 172.62L195.78 175.02L193.38 177.42L190.98 175.02Z" fill="#333333"/>
<path d="M194.46 172.62L196.86 175.02L194.46 177.42L192.06 175.02Z" fill="#333333"/>
<path d="M193.38 180.72L195.78 183.12L193.38 185.52L190.98 183.12Z" fill="#333333"/>
<path d="M193.02 192.06L195.42 194.46L193.02 196.86L190.62 194.46Z" fill="#333333"/>
<path d="M192.66 210.07L195.06 212.47L192.66 214.87L190.26 212.47Z" fill="#333333"/>
<line x1="169.50" y1="126.40" x2="169.50" y2="223.90" stroke="#444444" stroke-width="1"/>
<line x1="169.00" y1="223.50" x2="201.80" y2="223.50" stroke="#444444" stroke-width="1"/>
<line x1="166.10" y1="223.50" x2="169.50" y2="223.50" stroke="#444444" stroke-width="0.95"/>
<text x="163.50" y="226.00" class="tk">0.00</text>
<line x1="166.10" y1="207.50" x2="169.50" y2="207.50" stroke="#444444" stroke-width="0.95"/>
<text x="163.50" y="209.83" class="tk">0.05</text>
<line x1="166.10" y1="191.50" x2="169.50" y2="191.50" stroke="#444444" stroke-width="0.95"/>
<text x="163.50" y="193.67" class="tk">0.10</text>
<line x1="166.10" y1="174.50" x2="169.50" y2="174.50" stroke="#444444" stroke-width="0.95"/>
<text x="163.50" y="177.50" class="tk">0.15</text>
<line x1="166.10" y1="158.50" x2="169.50" y2="158.50" stroke="#444444" stroke-width="0.95"/>
<text x="163.50" y="161.33" class="tk">0.20</text>
<line x1="166.10" y1="142.50" x2="169.50" y2="142.50" stroke="#444444" stroke-width="0.95"/>
<text x="163.50" y="145.17" class="tk">0.25</text>
<line x1="166.10" y1="126.50" x2="169.50" y2="126.50" stroke="#444444" stroke-width="0.95"/>
<text x="163.50" y="129.00" class="tk">0.30</text>
<line x1="167.40" y1="215.50" x2="169.50" y2="215.50" stroke="#444444" stroke-width="0.9"/>
<line x1="167.40" y1="199.50" x2="169.50" y2="199.50" stroke="#444444" stroke-width="0.9"/>
<line x1="167.40" y1="182.50" x2="169.50" y2="182.50" stroke="#444444" stroke-width="0.9"/>
<line x1="167.40" y1="166.50" x2="169.50" y2="166.50" stroke="#444444" stroke-width="0.9"/>
<line x1="167.40" y1="150.50" x2="169.50" y2="150.50" stroke="#444444" stroke-width="0.9"/>
<line x1="167.40" y1="134.50" x2="169.50" y2="134.50" stroke="#444444" stroke-width="0.9"/>
<line x1="177.45" y1="223.40" x2="177.45" y2="226.40" stroke="#444444" stroke-width="0.8"/>
<line x1="193.65" y1="223.40" x2="193.65" y2="226.40" stroke="#444444" stroke-width="0.8"/>
<text x="177.45" y="236.10" class="xl" text-anchor="middle">NFD</text>
<text x="193.65" y="236.10" class="xl" text-anchor="middle">HFD</text>
<text transform="translate(146.10 174.80) rotate(-90)" class="yl" text-anchor="middle">Isobutyric acid</text>
<rect x="236.20" y="156.70" width="10.80" height="66.70" fill="#079694" stroke="#3a3a3a" stroke-width="0.55"/>
<rect x="252.60" y="186.40" width="10.80" height="37.00" fill="#d03230" stroke="#3a3a3a" stroke-width="0.55"/>
<line x1="241.50" y1="134.51" x2="241.50" y2="156.70" stroke="#555555" stroke-width="1.0"/>
<line x1="238.90" y1="134.51" x2="244.10" y2="134.51" stroke="#555555" stroke-width="1.0"/>
<line x1="258.50" y1="174.66" x2="258.50" y2="186.40" stroke="#555555" stroke-width="1.0"/>
<line x1="255.90" y1="174.66" x2="261.10" y2="174.66" stroke="#555555" stroke-width="1.0"/>
<path d="M241.27 132.11L243.67 134.51L241.27 136.91L238.87 134.51Z" fill="#333333"/>
<path d="M241.81 146.87L244.21 149.27L241.81 151.67L239.41 149.27Z" fill="#333333"/>
<path d="M243.25 158.21L245.65 160.61L243.25 163.01L240.85 160.61Z" fill="#333333"/>
<path d="M241.27 165.42L243.67 167.82L241.27 170.22L238.87 167.82Z" fill="#333333"/>
<path d="M240.37 169.92L242.77 172.32L240.37 174.72L237.97 172.32Z" fill="#333333"/>
<path d="M258.38 172.26L260.78 174.66L258.38 177.06L255.98 174.66Z" fill="#333333"/>
<path d="M257.66 181.62L260.06 184.02L257.66 186.42L255.26 184.02Z" fill="#333333"/>
<path d="M258.38 183.06L260.78 185.46L258.38 187.86L255.98 185.46Z" fill="#333333"/>
<path d="M257.12 191.52L259.52 193.92L257.12 196.32L254.72 193.92Z" fill="#333333"/>
<path d="M258.02 192.42L260.42 194.82L258.02 197.22L255.62 194.82Z" fill="#333333"/>
<line x1="233.50" y1="126.40" x2="233.50" y2="223.90" stroke="#444444" stroke-width="1"/>
<line x1="233.00" y1="223.50" x2="266.40" y2="223.50" stroke="#444444" stroke-width="1"/>
<line x1="230.10" y1="223.50" x2="233.50" y2="223.50" stroke="#444444" stroke-width="0.95"/>
<text x="227.50" y="226.00" class="tk">0.0</text>
<line x1="230.10" y1="208.50" x2="233.50" y2="208.50" stroke="#444444" stroke-width="0.95"/>
<text x="227.50" y="211.03" class="tk">0.2</text>
<line x1="230.10" y1="193.50" x2="233.50" y2="193.50" stroke="#444444" stroke-width="0.95"/>
<text x="227.50" y="196.07" class="tk">0.4</text>
<line x1="230.10" y1="178.50" x2="233.50" y2="178.50" stroke="#444444" stroke-width="0.95"/>
<text x="227.50" y="181.10" class="tk">0.6</text>
<line x1="230.10" y1="163.50" x2="233.50" y2="163.50" stroke="#444444" stroke-width="0.95"/>
<text x="227.50" y="166.13" class="tk">0.8</text>
<line x1="230.10" y1="148.50" x2="233.50" y2="148.50" stroke="#444444" stroke-width="0.95"/>
<text x="227.50" y="151.17" class="tk">1.0</text>
<line x1="230.10" y1="133.50" x2="233.50" y2="133.50" stroke="#444444" stroke-width="0.95"/>
<text x="227.50" y="136.20" class="tk">1.2</text>
<line x1="231.40" y1="215.50" x2="233.50" y2="215.50" stroke="#444444" stroke-width="0.9"/>
<line x1="231.40" y1="200.50" x2="233.50" y2="200.50" stroke="#444444" stroke-width="0.9"/>
<line x1="231.40" y1="185.50" x2="233.50" y2="185.50" stroke="#444444" stroke-width="0.9"/>
<line x1="231.40" y1="171.50" x2="233.50" y2="171.50" stroke="#444444" stroke-width="0.9"/>
<line x1="231.40" y1="156.50" x2="233.50" y2="156.50" stroke="#444444" stroke-width="0.9"/>
<line x1="231.40" y1="141.50" x2="233.50" y2="141.50" stroke="#444444" stroke-width="0.9"/>
<line x1="241.60" y1="223.40" x2="241.60" y2="226.40" stroke="#444444" stroke-width="0.8"/>
<line x1="258.00" y1="223.40" x2="258.00" y2="226.40" stroke="#444444" stroke-width="0.8"/>
<text x="241.60" y="236.10" class="xl" text-anchor="middle">NFD</text>
<text x="258.00" y="236.10" class="xl" text-anchor="middle">HFD</text>
<text transform="translate(214.70 174.80) rotate(-90)" class="yl" text-anchor="middle">Butyric acid</text>
<line x1="242.20" y1="131.30" x2="258.00" y2="131.30" stroke="#333" stroke-width="1.0"/>
<path d="M249.90 125.85L249.90 128.75M248.64 126.58L251.16 128.03M251.16 126.58L248.64 128.03" stroke="#4a4a4a" stroke-width="0.75" stroke-linecap="round" fill="none"/>
<rect x="303.00" y="197.20" width="10.50" height="26.20" fill="#079694" stroke="#3a3a3a" stroke-width="0.55"/>
<rect x="319.40" y="172.00" width="10.30" height="51.40" fill="#d03230" stroke="#3a3a3a" stroke-width="0.55"/>
<line x1="308.50" y1="182.58" x2="308.50" y2="197.20" stroke="#555555" stroke-width="1.0"/>
<line x1="305.90" y1="182.58" x2="311.10" y2="182.58" stroke="#555555" stroke-width="1.0"/>
<path d="M309.51 180.18L311.91 182.58L309.51 184.98L307.11 182.58Z" fill="#333333"/>
<path d="M307.71 190.62L310.11 193.02L307.71 195.42L305.31 193.02Z" fill="#333333"/>
<path d="M307.17 201.07L309.57 203.47L307.17 205.87L304.77 203.47Z" fill="#333333"/>
<path d="M307.71 201.43L310.11 203.83L307.71 206.23L305.31 203.83Z" fill="#333333"/>
<path d="M323.92 133.01L326.32 135.41L323.92 137.81L321.52 135.41Z" fill="#333333"/>
<path d="M324.82 171.72L327.22 174.12L324.82 176.52L322.42 174.12Z" fill="#333333"/>
<path d="M324.46 178.02L326.86 180.42L324.46 182.82L322.06 180.42Z" fill="#333333"/>
<path d="M323.02 194.22L325.42 196.62L323.02 199.02L320.62 196.62Z" fill="#333333"/>
<line x1="300.50" y1="126.40" x2="300.50" y2="223.90" stroke="#444444" stroke-width="1"/>
<line x1="300.00" y1="223.50" x2="332.70" y2="223.50" stroke="#444444" stroke-width="1"/>
<line x1="297.10" y1="223.50" x2="300.50" y2="223.50" stroke="#444444" stroke-width="0.95"/>
<text x="294.50" y="226.00" class="tk">0.00</text>
<line x1="297.10" y1="212.50" x2="300.50" y2="212.50" stroke="#444444" stroke-width="0.95"/>
<text x="294.50" y="215.22" class="tk">0.05</text>
<line x1="297.10" y1="201.50" x2="300.50" y2="201.50" stroke="#444444" stroke-width="0.95"/>
<text x="294.50" y="204.44" class="tk">0.10</text>
<line x1="297.10" y1="191.50" x2="300.50" y2="191.50" stroke="#444444" stroke-width="0.95"/>
<text x="294.50" y="193.67" class="tk">0.15</text>
<line x1="297.10" y1="180.50" x2="300.50" y2="180.50" stroke="#444444" stroke-width="0.95"/>
<text x="294.50" y="182.89" class="tk">0.20</text>
<line x1="297.10" y1="169.50" x2="300.50" y2="169.50" stroke="#444444" stroke-width="0.95"/>
<text x="294.50" y="172.11" class="tk">0.25</text>
<line x1="297.10" y1="158.50" x2="300.50" y2="158.50" stroke="#444444" stroke-width="0.95"/>
<text x="294.50" y="161.33" class="tk">0.30</text>
<line x1="297.10" y1="147.50" x2="300.50" y2="147.50" stroke="#444444" stroke-width="0.95"/>
<text x="294.50" y="150.56" class="tk">0.35</text>
<line x1="297.10" y1="137.50" x2="300.50" y2="137.50" stroke="#444444" stroke-width="0.95"/>
<text x="294.50" y="139.78" class="tk">0.40</text>
<line x1="297.10" y1="126.50" x2="300.50" y2="126.50" stroke="#444444" stroke-width="0.95"/>
<text x="294.50" y="129.00" class="tk">0.45</text>
<line x1="308.25" y1="223.40" x2="308.25" y2="226.40" stroke="#444444" stroke-width="0.8"/>
<line x1="324.55" y1="223.40" x2="324.55" y2="226.40" stroke="#444444" stroke-width="0.8"/>
<text x="308.25" y="236.10" class="xl" text-anchor="middle">NFD</text>
<text x="324.55" y="236.10" class="xl" text-anchor="middle">HFD</text>
<text transform="translate(277.00 174.80) rotate(-90)" class="yl" text-anchor="middle">Isovaleric acid</text>
<rect x="367.50" y="165.70" width="10.40" height="57.70" fill="#079694" stroke="#3a3a3a" stroke-width="0.55"/>
<rect x="383.50" y="175.40" width="10.50" height="48.00" fill="#d03230" stroke="#3a3a3a" stroke-width="0.55"/>
<line x1="372.50" y1="136.85" x2="372.50" y2="165.70" stroke="#555555" stroke-width="1.0"/>
<line x1="369.90" y1="136.85" x2="375.10" y2="136.85" stroke="#555555" stroke-width="1.0"/>
<path d="M372.17 134.45L374.57 136.85L372.17 139.25L369.77 136.85Z" fill="#333333"/>
<path d="M372.71 151.91L375.11 154.31L372.71 156.71L370.31 154.31Z" fill="#333333"/>
<path d="M373.97 168.48L376.37 170.88L373.97 173.28L371.57 170.88Z" fill="#333333"/>
<path d="M371.45 178.02L373.85 180.42L371.45 182.82L369.05 180.42Z" fill="#333333"/>
<path d="M372.17 183.96L374.57 186.36L372.17 188.76L369.77 186.36Z" fill="#333333"/>
<path d="M388.38 142.01L390.78 144.41L388.38 146.81L385.98 144.41Z" fill="#333333"/>
<path d="M387.66 176.58L390.06 178.98L387.66 181.38L385.26 178.98Z" fill="#333333"/>
<path d="M388.92 178.92L391.32 181.32L388.92 183.72L386.52 181.32Z" fill="#333333"/>
<path d="M388.02 183.78L390.42 186.18L388.02 188.58L385.62 186.18Z" fill="#333333"/>
<line x1="364.50" y1="126.40" x2="364.50" y2="223.90" stroke="#444444" stroke-width="1"/>
<line x1="364.00" y1="223.50" x2="397.00" y2="223.50" stroke="#444444" stroke-width="1"/>
<line x1="361.10" y1="223.50" x2="364.50" y2="223.50" stroke="#444444" stroke-width="0.95"/>
<text x="358.50" y="226.00" class="tk">0.0</text>
<line x1="361.10" y1="208.50" x2="364.50" y2="208.50" stroke="#444444" stroke-width="0.95"/>
<text x="358.50" y="210.97" class="tk">0.1</text>
<line x1="361.10" y1="193.50" x2="364.50" y2="193.50" stroke="#444444" stroke-width="0.95"/>
<text x="358.50" y="195.93" class="tk">0.2</text>
<line x1="361.10" y1="178.50" x2="364.50" y2="178.50" stroke="#444444" stroke-width="0.95"/>
<text x="358.50" y="180.90" class="tk">0.3</text>
<line x1="361.10" y1="163.50" x2="364.50" y2="163.50" stroke="#444444" stroke-width="0.95"/>
<text x="358.50" y="165.87" class="tk">0.4</text>
<line x1="361.10" y1="148.50" x2="364.50" y2="148.50" stroke="#444444" stroke-width="0.95"/>
<text x="358.50" y="150.83" class="tk">0.5</text>
<line x1="361.10" y1="133.50" x2="364.50" y2="133.50" stroke="#444444" stroke-width="0.95"/>
<text x="358.50" y="135.80" class="tk">0.6</text>
<line x1="362.40" y1="215.50" x2="364.50" y2="215.50" stroke="#444444" stroke-width="0.9"/>
<line x1="362.40" y1="200.50" x2="364.50" y2="200.50" stroke="#444444" stroke-width="0.9"/>
<line x1="362.40" y1="185.50" x2="364.50" y2="185.50" stroke="#444444" stroke-width="0.9"/>
<line x1="362.40" y1="170.50" x2="364.50" y2="170.50" stroke="#444444" stroke-width="0.9"/>
<line x1="362.40" y1="155.50" x2="364.50" y2="155.50" stroke="#444444" stroke-width="0.9"/>
<line x1="362.40" y1="140.50" x2="364.50" y2="140.50" stroke="#444444" stroke-width="0.9"/>
<line x1="372.70" y1="223.40" x2="372.70" y2="226.40" stroke="#444444" stroke-width="0.8"/>
<line x1="388.75" y1="223.40" x2="388.75" y2="226.40" stroke="#444444" stroke-width="0.8"/>
<text x="372.70" y="236.10" class="xl" text-anchor="middle">NFD</text>
<text x="388.75" y="236.10" class="xl" text-anchor="middle">HFD</text>
<text transform="translate(345.20 174.80) rotate(-90)" class="yl" text-anchor="middle">Valeric acid</text>
<rect x="432.70" y="156.10" width="10.80" height="67.30" fill="#079694" stroke="#3a3a3a" stroke-width="0.55"/>
<rect x="449.40" y="170.20" width="11.20" height="53.20" fill="#d03230" stroke="#3a3a3a" stroke-width="0.55"/>
<line x1="438.50" y1="135.41" x2="438.50" y2="156.10" stroke="#555555" stroke-width="1.0"/>
<line x1="435.90" y1="135.41" x2="441.10" y2="135.41" stroke="#555555" stroke-width="1.0"/>
<path d="M439.51 133.01L441.91 135.41L439.51 137.81L437.11 135.41Z" fill="#333333"/>
<path d="M437.71 146.51L440.11 148.91L437.71 151.31L435.31 148.91Z" fill="#333333"/>
<path d="M436.81 152.81L439.21 155.21L436.81 157.61L434.41 155.21Z" fill="#333333"/>
<path d="M436.81 160.37L439.21 162.77L436.81 165.17L434.41 162.77Z" fill="#333333"/>
<path d="M437.35 177.12L439.75 179.52L437.35 181.92L434.95 179.52Z" fill="#333333"/>
<path d="M456.08 132.11L458.48 134.51L456.08 136.91L453.68 134.51Z" fill="#333333"/>
<path d="M454.82 165.78L457.22 168.18L454.82 170.58L452.42 168.18Z" fill="#333333"/>
<path d="M455.18 178.92L457.58 181.32L455.18 183.72L452.78 181.32Z" fill="#333333"/>
<path d="M453.38 183.78L455.78 186.18L453.38 188.58L450.98 186.18Z" fill="#333333"/>
<line x1="429.50" y1="126.40" x2="429.50" y2="223.90" stroke="#444444" stroke-width="1"/>
<line x1="429.00" y1="223.50" x2="463.60" y2="223.50" stroke="#444444" stroke-width="1"/>
<line x1="426.10" y1="223.50" x2="429.50" y2="223.50" stroke="#444444" stroke-width="0.95"/>
<text x="423.50" y="226.00" class="tk">0.0</text>
<line x1="426.10" y1="204.50" x2="429.50" y2="204.50" stroke="#444444" stroke-width="0.95"/>
<text x="423.50" y="206.60" class="tk">0.2</text>
<line x1="426.10" y1="184.50" x2="429.50" y2="184.50" stroke="#444444" stroke-width="0.95"/>
<text x="423.50" y="187.20" class="tk">0.4</text>
<line x1="426.10" y1="165.50" x2="429.50" y2="165.50" stroke="#444444" stroke-width="0.95"/>
<text x="423.50" y="167.80" class="tk">0.6</text>
<line x1="426.10" y1="145.50" x2="429.50" y2="145.50" stroke="#444444" stroke-width="0.95"/>
<text x="423.50" y="148.40" class="tk">0.8</text>
<line x1="426.10" y1="126.50" x2="429.50" y2="126.50" stroke="#444444" stroke-width="0.95"/>
<text x="423.50" y="129.00" class="tk">1.0</text>
<line x1="427.40" y1="213.50" x2="429.50" y2="213.50" stroke="#444444" stroke-width="0.9"/>
<line x1="427.40" y1="194.50" x2="429.50" y2="194.50" stroke="#444444" stroke-width="0.9"/>
<line x1="427.40" y1="174.50" x2="429.50" y2="174.50" stroke="#444444" stroke-width="0.9"/>
<line x1="427.40" y1="155.50" x2="429.50" y2="155.50" stroke="#444444" stroke-width="0.9"/>
<line x1="427.40" y1="136.50" x2="429.50" y2="136.50" stroke="#444444" stroke-width="0.9"/>
<line x1="438.10" y1="223.40" x2="438.10" y2="226.40" stroke="#444444" stroke-width="0.8"/>
<line x1="455.00" y1="223.40" x2="455.00" y2="226.40" stroke="#444444" stroke-width="0.8"/>
<text x="438.10" y="236.10" class="xl" text-anchor="middle">NFD</text>
<text x="455.00" y="236.10" class="xl" text-anchor="middle">HFD</text>
<text transform="translate(409.70 174.80) rotate(-90)" class="yl" text-anchor="middle">Hexanoic acid</text>
<rect x="498.90" y="148.00" width="11.20" height="75.40" fill="#079694" stroke="#3a3a3a" stroke-width="0.55"/>
<rect x="515.80" y="150.40" width="11.20" height="73.00" fill="#d03230" stroke="#3a3a3a" stroke-width="0.55"/>
<line x1="521.50" y1="137.75" x2="521.50" y2="150.40" stroke="#555555" stroke-width="1.0"/>
<line x1="518.90" y1="137.75" x2="524.10" y2="137.75" stroke="#555555" stroke-width="1.0"/>
<path d="M503.21 131.75L505.61 134.15L503.21 136.55L500.81 134.15Z" fill="#333333"/>
<path d="M505.91 143.81L508.31 146.21L505.91 148.61L503.51 146.21Z" fill="#333333"/>
<path d="M504.11 144.17L506.51 146.57L504.11 148.97L501.71 146.57Z" fill="#333333"/>
<path d="M502.85 151.55L505.25 153.95L502.85 156.35L500.45 153.95Z" fill="#333333"/>
<path d="M503.57 159.65L505.97 162.05L503.57 164.45L501.17 162.05Z" fill="#333333"/>
<path d="M521.58 135.35L523.98 137.75L521.58 140.15L519.18 137.75Z" fill="#333333"/>
<path d="M520.86 147.41L523.26 149.81L520.86 152.21L518.46 149.81Z" fill="#333333"/>
<path d="M522.12 148.31L524.52 150.71L522.12 153.11L519.72 150.71Z" fill="#333333"/>
<path d="M521.58 155.51L523.98 157.91L521.58 160.31L519.18 157.91Z" fill="#333333"/>
<line x1="495.50" y1="126.40" x2="495.50" y2="223.90" stroke="#444444" stroke-width="1"/>
<line x1="495.00" y1="223.50" x2="530.00" y2="223.50" stroke="#444444" stroke-width="1"/>
<line x1="492.10" y1="223.50" x2="495.50" y2="223.50" stroke="#444444" stroke-width="0.95"/>
<text x="489.50" y="226.00" class="tk">0.00</text>
<line x1="492.10" y1="210.50" x2="495.50" y2="210.50" stroke="#444444" stroke-width="0.95"/>
<text x="489.50" y="213.04" class="tk">0.05</text>
<line x1="492.10" y1="197.50" x2="495.50" y2="197.50" stroke="#444444" stroke-width="0.95"/>
<text x="489.50" y="200.09" class="tk">0.10</text>
<line x1="492.10" y1="184.50" x2="495.50" y2="184.50" stroke="#444444" stroke-width="0.95"/>
<text x="489.50" y="187.13" class="tk">0.15</text>
<line x1="492.10" y1="171.50" x2="495.50" y2="171.50" stroke="#444444" stroke-width="0.95"/>
<text x="489.50" y="174.17" class="tk">0.20</text>
<line x1="492.10" y1="158.50" x2="495.50" y2="158.50" stroke="#444444" stroke-width="0.95"/>
<text x="489.50" y="161.21" class="tk">0.25</text>
<line x1="492.10" y1="145.50" x2="495.50" y2="145.50" stroke="#444444" stroke-width="0.95"/>
<text x="489.50" y="148.26" class="tk">0.30</text>
<line x1="492.10" y1="132.50" x2="495.50" y2="132.50" stroke="#444444" stroke-width="0.95"/>
<text x="489.50" y="135.30" class="tk">0.35</text>
<line x1="493.40" y1="216.50" x2="495.50" y2="216.50" stroke="#444444" stroke-width="0.9"/>
<line x1="493.40" y1="203.50" x2="495.50" y2="203.50" stroke="#444444" stroke-width="0.9"/>
<line x1="493.40" y1="191.50" x2="495.50" y2="191.50" stroke="#444444" stroke-width="0.9"/>
<line x1="493.40" y1="178.50" x2="495.50" y2="178.50" stroke="#444444" stroke-width="0.9"/>
<line x1="493.40" y1="165.50" x2="495.50" y2="165.50" stroke="#444444" stroke-width="0.9"/>
<line x1="493.40" y1="152.50" x2="495.50" y2="152.50" stroke="#444444" stroke-width="0.9"/>
<line x1="493.40" y1="139.50" x2="495.50" y2="139.50" stroke="#444444" stroke-width="0.9"/>
<line x1="504.50" y1="223.40" x2="504.50" y2="226.40" stroke="#444444" stroke-width="0.8"/>
<line x1="521.40" y1="223.40" x2="521.40" y2="226.40" stroke="#444444" stroke-width="0.8"/>
<text x="504.50" y="236.10" class="xl" text-anchor="middle">NFD</text>
<text x="521.40" y="236.10" class="xl" text-anchor="middle">HFD</text>
<text transform="translate(473.40 174.80) rotate(-90)" class="yl" text-anchor="middle">Heptanoic acid</text>
<rect x="563.20" y="160.30" width="10.80" height="63.10" fill="#079694" stroke="#3a3a3a" stroke-width="0.55"/>
<rect x="579.70" y="178.60" width="10.80" height="44.80" fill="#d03230" stroke="#3a3a3a" stroke-width="0.55"/>
<line x1="568.50" y1="136.31" x2="568.50" y2="160.30" stroke="#555555" stroke-width="1.0"/>
<line x1="565.90" y1="136.31" x2="571.10" y2="136.31" stroke="#555555" stroke-width="1.0"/>
<line x1="585.50" y1="167.46" x2="585.50" y2="178.60" stroke="#555555" stroke-width="1.0"/>
<line x1="582.90" y1="167.46" x2="588.10" y2="167.46" stroke="#555555" stroke-width="1.0"/>
<path d="M569.83 133.91L572.23 136.31L569.83 138.71L567.43 136.31Z" fill="#333333"/>
<path d="M567.49 153.17L569.89 155.57L567.49 157.97L565.09 155.57Z" fill="#333333"/>
<path d="M567.67 165.06L570.07 167.46L567.67 169.86L565.27 167.46Z" fill="#333333"/>
<path d="M566.59 165.78L568.99 168.18L566.59 170.58L564.19 168.18Z" fill="#333333"/>
<path d="M567.67 172.26L570.07 174.66L567.67 177.06L565.27 174.66Z" fill="#333333"/>
<path d="M585.50 165.06L587.90 167.46L585.50 169.86L583.10 167.46Z" fill="#333333"/>
<path d="M585.68 174.06L588.08 176.46L585.68 178.86L583.28 176.46Z" fill="#333333"/>
<path d="M583.87 180.18L586.27 182.58L583.87 184.98L581.47 182.58Z" fill="#333333"/>
<path d="M585.68 187.02L588.08 189.42L585.68 191.82L583.28 189.42Z" fill="#333333"/>
<line x1="560.50" y1="126.40" x2="560.50" y2="223.90" stroke="#444444" stroke-width="1"/>
<line x1="560.00" y1="223.50" x2="593.50" y2="223.50" stroke="#444444" stroke-width="1"/>
<line x1="557.10" y1="223.50" x2="560.50" y2="223.50" stroke="#444444" stroke-width="0.95"/>
<text x="554.50" y="226.00" class="tk">0.0</text>
<line x1="557.10" y1="210.50" x2="560.50" y2="210.50" stroke="#444444" stroke-width="0.95"/>
<text x="554.50" y="213.04" class="tk">0.2</text>
<line x1="557.10" y1="197.50" x2="560.50" y2="197.50" stroke="#444444" stroke-width="0.95"/>
<text x="554.50" y="200.09" class="tk">0.4</text>
<line x1="557.10" y1="184.50" x2="560.50" y2="184.50" stroke="#444444" stroke-width="0.95"/>
<text x="554.50" y="187.13" class="tk">0.6</text>
<line x1="557.10" y1="171.50" x2="560.50" y2="171.50" stroke="#444444" stroke-width="0.95"/>
<text x="554.50" y="174.17" class="tk">0.8</text>
<line x1="557.10" y1="158.50" x2="560.50" y2="158.50" stroke="#444444" stroke-width="0.95"/>
<text x="554.50" y="161.21" class="tk">1.0</text>
<line x1="557.10" y1="145.50" x2="560.50" y2="145.50" stroke="#444444" stroke-width="0.95"/>
<text x="554.50" y="148.26" class="tk">1.2</text>
<line x1="557.10" y1="132.50" x2="560.50" y2="132.50" stroke="#444444" stroke-width="0.95"/>
<text x="554.50" y="135.30" class="tk">1.4</text>
<line x1="558.40" y1="216.50" x2="560.50" y2="216.50" stroke="#444444" stroke-width="0.9"/>
<line x1="558.40" y1="203.50" x2="560.50" y2="203.50" stroke="#444444" stroke-width="0.9"/>
<line x1="558.40" y1="191.50" x2="560.50" y2="191.50" stroke="#444444" stroke-width="0.9"/>
<line x1="558.40" y1="178.50" x2="560.50" y2="178.50" stroke="#444444" stroke-width="0.9"/>
<line x1="558.40" y1="165.50" x2="560.50" y2="165.50" stroke="#444444" stroke-width="0.9"/>
<line x1="558.40" y1="152.50" x2="560.50" y2="152.50" stroke="#444444" stroke-width="0.9"/>
<line x1="558.40" y1="139.50" x2="560.50" y2="139.50" stroke="#444444" stroke-width="0.9"/>
<line x1="568.60" y1="223.40" x2="568.60" y2="226.40" stroke="#444444" stroke-width="0.8"/>
<line x1="585.10" y1="223.40" x2="585.10" y2="226.40" stroke="#444444" stroke-width="0.8"/>
<text x="568.60" y="236.10" class="xl" text-anchor="middle">NFD</text>
<text x="585.10" y="236.10" class="xl" text-anchor="middle">HFD</text>
<text transform="translate(540.40 174.80) rotate(-90)" class="yl" text-anchor="middle">Octanoic acid</text>
<rect x="625.80" y="209.20" width="10.90" height="14.20" fill="#079694" stroke="#3a3a3a" stroke-width="0.55"/>
<rect x="643.00" y="193.40" width="10.80" height="30.00" fill="#d03230" stroke="#3a3a3a" stroke-width="0.55"/>
<line x1="648.50" y1="193.38" x2="648.50" y2="203.83" stroke="#555555" stroke-width="1.0"/>
<line x1="645.90" y1="193.38" x2="651.10" y2="193.38" stroke="#555555" stroke-width="1.0"/>
<path d="M631.61 206.47L634.01 208.87L631.61 211.27L629.21 208.87Z" fill="#333333"/>
<path d="M630.17 207.73L632.57 210.13L630.17 212.53L627.77 210.13Z" fill="#333333"/>
<path d="M628.91 206.83L631.31 209.23L628.91 211.63L626.51 209.23Z" fill="#333333"/>
<path d="M630.71 205.93L633.11 208.33L630.71 210.73L628.31 208.33Z" fill="#333333"/>
<path d="M648.72 136.97L651.12 139.37L648.72 141.77L646.32 139.37Z" fill="#333333"/>
<path d="M648.72 201.43L651.12 203.83L648.72 206.23L646.32 203.83Z" fill="#333333"/>
<path d="M646.92 205.03L649.32 207.43L646.92 209.83L644.52 207.43Z" fill="#333333"/>
<path d="M647.46 207.73L649.86 210.13L647.46 212.53L645.06 210.13Z" fill="#333333"/>
<line x1="622.50" y1="126.40" x2="622.50" y2="223.90" stroke="#444444" stroke-width="1"/>
<line x1="622.00" y1="223.50" x2="656.80" y2="223.50" stroke="#444444" stroke-width="1"/>
<line x1="619.10" y1="223.50" x2="622.50" y2="223.50" stroke="#444444" stroke-width="0.95"/>
<text x="616.50" y="226.00" class="tk">0</text>
<line x1="619.10" y1="209.50" x2="622.50" y2="209.50" stroke="#444444" stroke-width="0.95"/>
<text x="616.50" y="212.14" class="tk">5</text>
<line x1="619.10" y1="195.50" x2="622.50" y2="195.50" stroke="#444444" stroke-width="0.95"/>
<text x="616.50" y="198.29" class="tk">10</text>
<line x1="619.10" y1="181.50" x2="622.50" y2="181.50" stroke="#444444" stroke-width="0.95"/>
<text x="616.50" y="184.43" class="tk">15</text>
<line x1="619.10" y1="167.50" x2="622.50" y2="167.50" stroke="#444444" stroke-width="0.95"/>
<text x="616.50" y="170.57" class="tk">20</text>
<line x1="619.10" y1="154.50" x2="622.50" y2="154.50" stroke="#444444" stroke-width="0.95"/>
<text x="616.50" y="156.71" class="tk">25</text>
<line x1="619.10" y1="140.50" x2="622.50" y2="140.50" stroke="#444444" stroke-width="0.95"/>
<text x="616.50" y="142.86" class="tk">30</text>
<line x1="619.10" y1="126.50" x2="622.50" y2="126.50" stroke="#444444" stroke-width="0.95"/>
<text x="616.50" y="129.00" class="tk">35</text>
<line x1="620.40" y1="216.50" x2="622.50" y2="216.50" stroke="#444444" stroke-width="0.9"/>
<line x1="620.40" y1="202.50" x2="622.50" y2="202.50" stroke="#444444" stroke-width="0.9"/>
<line x1="620.40" y1="188.50" x2="622.50" y2="188.50" stroke="#444444" stroke-width="0.9"/>
<line x1="620.40" y1="174.50" x2="622.50" y2="174.50" stroke="#444444" stroke-width="0.9"/>
<line x1="620.40" y1="161.50" x2="622.50" y2="161.50" stroke="#444444" stroke-width="0.9"/>
<line x1="620.40" y1="147.50" x2="622.50" y2="147.50" stroke="#444444" stroke-width="0.9"/>
<line x1="620.40" y1="133.50" x2="622.50" y2="133.50" stroke="#444444" stroke-width="0.9"/>
<line x1="631.25" y1="223.40" x2="631.25" y2="226.40" stroke="#444444" stroke-width="0.8"/>
<line x1="648.40" y1="223.40" x2="648.40" y2="226.40" stroke="#444444" stroke-width="0.8"/>
<text x="631.25" y="236.10" class="xl" text-anchor="middle">NFD</text>
<text x="648.40" y="236.10" class="xl" text-anchor="middle">HFD</text>
<text transform="translate(605.40 174.80) rotate(-90)" class="yl" text-anchor="middle">Nonanoic acid</text>
<rect x="690.10" y="161.20" width="10.80" height="62.20" fill="#079694" stroke="#3a3a3a" stroke-width="0.55"/>
<rect x="707.20" y="182.20" width="10.50" height="41.20" fill="#d03230" stroke="#3a3a3a" stroke-width="0.55"/>
<path d="M696.79 134.45L699.19 136.85L696.79 139.25L694.39 136.85Z" fill="#333333"/>
<path d="M694.27 157.31L696.67 159.71L694.27 162.11L691.87 159.71Z" fill="#333333"/>
<path d="M694.27 161.81L696.67 164.21L694.27 166.61L691.87 164.21Z" fill="#333333"/>
<path d="M694.63 169.92L697.03 172.32L694.63 174.72L692.23 172.32Z" fill="#333333"/>
<path d="M694.63 172.26L697.03 174.66L694.63 177.06L692.23 174.66Z" fill="#333333"/>
<path d="M712.27 161.81L714.67 164.21L712.27 166.61L709.87 164.21Z" fill="#333333"/>
<path d="M712.99 178.02L715.39 180.42L712.99 182.82L710.59 180.42Z" fill="#333333"/>
<path d="M712.63 183.42L715.03 185.82L712.63 188.22L710.23 185.82Z" fill="#333333"/>
<path d="M711.37 192.78L713.77 195.18L711.37 197.58L708.97 195.18Z" fill="#333333"/>
<line x1="687.50" y1="126.40" x2="687.50" y2="223.90" stroke="#444444" stroke-width="1"/>
<line x1="687.00" y1="223.50" x2="720.70" y2="223.50" stroke="#444444" stroke-width="1"/>
<line x1="684.10" y1="223.50" x2="687.50" y2="223.50" stroke="#444444" stroke-width="0.95"/>
<text x="681.50" y="226.00" class="tk">0.0</text>
<line x1="684.10" y1="209.50" x2="687.50" y2="209.50" stroke="#444444" stroke-width="0.95"/>
<text x="681.50" y="212.14" class="tk">0.2</text>
<line x1="684.10" y1="195.50" x2="687.50" y2="195.50" stroke="#444444" stroke-width="0.95"/>
<text x="681.50" y="198.29" class="tk">0.4</text>
<line x1="684.10" y1="181.50" x2="687.50" y2="181.50" stroke="#444444" stroke-width="0.95"/>
<text x="681.50" y="184.43" class="tk">0.6</text>
<line x1="684.10" y1="167.50" x2="687.50" y2="167.50" stroke="#444444" stroke-width="0.95"/>
<text x="681.50" y="170.57" class="tk">0.8</text>
<line x1="684.10" y1="154.50" x2="687.50" y2="154.50" stroke="#444444" stroke-width="0.95"/>
<text x="681.50" y="156.71" class="tk">1.0</text>
<line x1="684.10" y1="140.50" x2="687.50" y2="140.50" stroke="#444444" stroke-width="0.95"/>
<text x="681.50" y="142.86" class="tk">1.2</text>
<line x1="684.10" y1="126.50" x2="687.50" y2="126.50" stroke="#444444" stroke-width="0.95"/>
<text x="681.50" y="129.00" class="tk">1.4</text>
<line x1="685.40" y1="216.50" x2="687.50" y2="216.50" stroke="#444444" stroke-width="0.9"/>
<line x1="685.40" y1="202.50" x2="687.50" y2="202.50" stroke="#444444" stroke-width="0.9"/>
<line x1="685.40" y1="188.50" x2="687.50" y2="188.50" stroke="#444444" stroke-width="0.9"/>
<line x1="685.40" y1="174.50" x2="687.50" y2="174.50" stroke="#444444" stroke-width="0.9"/>
<line x1="685.40" y1="161.50" x2="687.50" y2="161.50" stroke="#444444" stroke-width="0.9"/>
<line x1="685.40" y1="147.50" x2="687.50" y2="147.50" stroke="#444444" stroke-width="0.9"/>
<line x1="685.40" y1="133.50" x2="687.50" y2="133.50" stroke="#444444" stroke-width="0.9"/>
<line x1="695.50" y1="223.40" x2="695.50" y2="226.40" stroke="#444444" stroke-width="0.8"/>
<line x1="712.45" y1="223.40" x2="712.45" y2="226.40" stroke="#444444" stroke-width="0.8"/>
<text x="695.50" y="236.10" class="xl" text-anchor="middle">NFD</text>
<text x="712.45" y="236.10" class="xl" text-anchor="middle">HFD</text>
<text transform="translate(668.10 174.80) rotate(-90)" class="yl" text-anchor="middle">Decanoic acid</text>
<line x1="696.80" y1="132.20" x2="712.30" y2="132.20" stroke="#333" stroke-width="1.0"/>
<path d="M705.00 126.75L705.00 129.65M703.74 127.47L706.26 128.92M706.26 127.47L703.74 128.92" stroke="#4a4a4a" stroke-width="0.75" stroke-linecap="round" fill="none"/>
<text x="0.8" y="8.0" class="pl">A</text>
<text x="0.8" y="125.6" class="pl">B</text>
<text x="3.6" y="263.7" class="pl">C</text>
<text x="372.4" y="264.1" class="pl">D</text>
<text transform="translate(10.3 56.0) rotate(-90)" class="gt" text-anchor="middle">Ceal SCFAs (μg/L)</text>
<text transform="translate(13.0 178.4) rotate(-90)" class="gt2" text-anchor="middle">Hepatic SCFAs (μg/g)</text>
</svg>
</body></html>
